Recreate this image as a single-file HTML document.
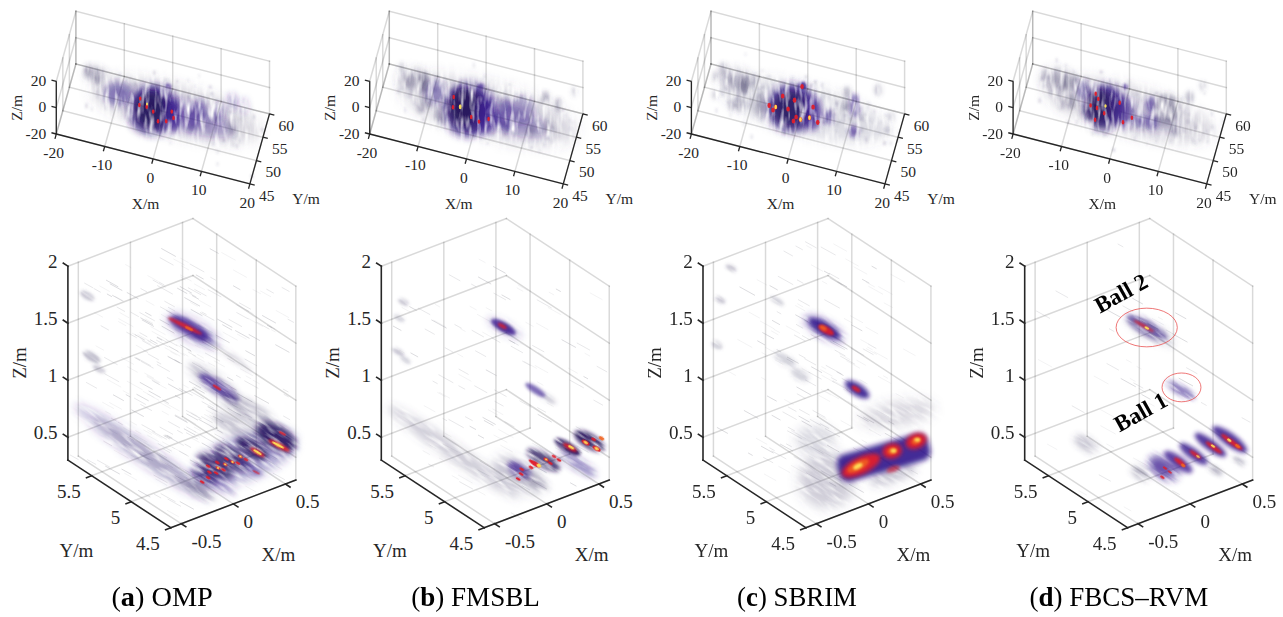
<!DOCTYPE html>
<html><head><meta charset="utf-8"><style>html,body{margin:0;padding:0;background:#fff;}svg{display:block;}</style></head>
<body><svg width="1283" height="617" viewBox="0 0 1283 617" font-family='"Liberation Serif", serif'><defs><filter id="f0_4" x="-100%" y="-100%" width="300%" height="300%"><feGaussianBlur stdDeviation="0.4"/></filter><filter id="f0_5" x="-100%" y="-100%" width="300%" height="300%"><feGaussianBlur stdDeviation="0.5"/></filter><filter id="f0_6" x="-100%" y="-100%" width="300%" height="300%"><feGaussianBlur stdDeviation="0.6"/></filter><filter id="f0_7" x="-100%" y="-100%" width="300%" height="300%"><feGaussianBlur stdDeviation="0.7"/></filter><filter id="f0_8" x="-100%" y="-100%" width="300%" height="300%"><feGaussianBlur stdDeviation="0.8"/></filter><filter id="f0_9" x="-100%" y="-100%" width="300%" height="300%"><feGaussianBlur stdDeviation="0.9"/></filter><filter id="f1_0" x="-100%" y="-100%" width="300%" height="300%"><feGaussianBlur stdDeviation="1"/></filter><filter id="f1_2" x="-100%" y="-100%" width="300%" height="300%"><feGaussianBlur stdDeviation="1.2"/></filter><filter id="f1_5" x="-100%" y="-100%" width="300%" height="300%"><feGaussianBlur stdDeviation="1.5"/></filter><filter id="f2_0" x="-100%" y="-100%" width="300%" height="300%"><feGaussianBlur stdDeviation="2"/></filter><filter id="f2_5" x="-100%" y="-100%" width="300%" height="300%"><feGaussianBlur stdDeviation="2.5"/></filter><filter id="f3_0" x="-100%" y="-100%" width="300%" height="300%"><feGaussianBlur stdDeviation="3"/></filter><filter id="f4_0" x="-100%" y="-100%" width="300%" height="300%"><feGaussianBlur stdDeviation="4"/></filter><filter id="f5_0" x="-100%" y="-100%" width="300%" height="300%"><feGaussianBlur stdDeviation="5"/></filter><filter id="f6_0" x="-100%" y="-100%" width="300%" height="300%"><feGaussianBlur stdDeviation="6"/></filter><filter id="f7_0" x="-100%" y="-100%" width="300%" height="300%"><feGaussianBlur stdDeviation="7"/></filter><filter id="txv" filterUnits="userSpaceOnUse" x="0" y="0" width="1283" height="617"><feTurbulence type="fractalNoise" baseFrequency="0.2 0.05" numOctaves="2" seed="4" result="n"/><feColorMatrix in="n" type="matrix" values="0 0 0 0 0 0 0 0 0 0 0 0 0 0 0 2.2 0 0 0 -0.25" result="m"/><feComposite in="SourceGraphic" in2="m" operator="in"/></filter><filter id="txd" filterUnits="userSpaceOnUse" x="-400" y="-400" width="2400" height="1600"><feTurbulence type="fractalNoise" baseFrequency="0.05 0.25" numOctaves="2" seed="7" result="n"/><feColorMatrix in="n" type="matrix" values="0 0 0 0 0 0 0 0 0 0 0 0 0 0 0 2.0 0 0 0 -0.12" result="m"/><feComposite in="SourceGraphic" in2="m" operator="in"/></filter><filter id="txh" filterUnits="userSpaceOnUse" x="0" y="0" width="1283" height="617"><feTurbulence type="fractalNoise" baseFrequency="0.5 0.25" numOctaves="2" seed="9" result="n"/><feColorMatrix in="n" type="matrix" values="0 0 0 0 0 0 0 0 0 0 0 0 0 0 0 2.2 0 0 0 -0.4" result="m"/><feComposite in="SourceGraphic" in2="m" operator="in"/></filter></defs><g stroke-linecap="square"><line x1="75.9" y1="64" x2="75.9" y2="11.3" stroke="#000" stroke-width="1.5" stroke-opacity="0.15"/><line x1="56.3" y1="134" x2="75.9" y2="64" stroke="#000" stroke-width="1.5" stroke-opacity="0.15"/><line x1="124.3" y1="76.47" x2="124.3" y2="23.77" stroke="#000" stroke-width="1.5" stroke-opacity="0.15"/><line x1="104.7" y1="146.47" x2="124.3" y2="76.47" stroke="#000" stroke-width="1.5" stroke-opacity="0.15"/><line x1="172.7" y1="88.95" x2="172.7" y2="36.25" stroke="#000" stroke-width="1.5" stroke-opacity="0.15"/><line x1="153.1" y1="158.95" x2="172.7" y2="88.95" stroke="#000" stroke-width="1.5" stroke-opacity="0.15"/><line x1="221.1" y1="101.43" x2="221.1" y2="48.73" stroke="#000" stroke-width="1.5" stroke-opacity="0.15"/><line x1="201.5" y1="171.43" x2="221.1" y2="101.43" stroke="#000" stroke-width="1.5" stroke-opacity="0.15"/><line x1="269.5" y1="113.9" x2="269.5" y2="61.2" stroke="#000" stroke-width="1.5" stroke-opacity="0.15"/><line x1="249.9" y1="183.9" x2="269.5" y2="113.9" stroke="#000" stroke-width="1.5" stroke-opacity="0.15"/><line x1="75.9" y1="64" x2="269.5" y2="113.9" stroke="#000" stroke-width="1.5" stroke-opacity="0.15"/><line x1="56.3" y1="134" x2="75.9" y2="64" stroke="#000" stroke-width="1.5" stroke-opacity="0.15"/><line x1="75.9" y1="37.65" x2="269.5" y2="87.55" stroke="#000" stroke-width="1.5" stroke-opacity="0.15"/><line x1="56.3" y1="107.65" x2="75.9" y2="37.65" stroke="#000" stroke-width="1.5" stroke-opacity="0.15"/><line x1="75.9" y1="11.3" x2="269.5" y2="61.2" stroke="#000" stroke-width="1.5" stroke-opacity="0.15"/><line x1="56.3" y1="81.3" x2="75.9" y2="11.3" stroke="#000" stroke-width="1.5" stroke-opacity="0.15"/><line x1="56.3" y1="134" x2="56.3" y2="81.3" stroke="#000" stroke-width="1.5" stroke-opacity="0.15"/><line x1="56.3" y1="134" x2="249.9" y2="183.9" stroke="#000" stroke-width="1.5" stroke-opacity="0.15"/><line x1="62.83" y1="110.67" x2="62.83" y2="57.97" stroke="#000" stroke-width="1.5" stroke-opacity="0.15"/><line x1="62.83" y1="110.67" x2="256.43" y2="160.57" stroke="#000" stroke-width="1.5" stroke-opacity="0.15"/><line x1="69.37" y1="87.33" x2="69.37" y2="34.63" stroke="#000" stroke-width="1.5" stroke-opacity="0.15"/><line x1="69.37" y1="87.33" x2="262.97" y2="137.23" stroke="#000" stroke-width="1.5" stroke-opacity="0.15"/><line x1="75.9" y1="64" x2="75.9" y2="11.3" stroke="#000" stroke-width="1.5" stroke-opacity="0.15"/><line x1="75.9" y1="64" x2="269.5" y2="113.9" stroke="#000" stroke-width="1.5" stroke-opacity="0.15"/></g><path d="M104.4 106.0h2.0v3.9h-2.0zM208.9 118.3h2.1v3.2h-2.1zM134.4 113.7h2.1v3.7h-2.1zM90.8 107.4h2.1v3.3h-2.1zM106.2 86.5h1.7v4.6h-1.7zM239.2 117.4h2.8v4.0h-2.8zM226.5 105.6h2.3v4.3h-2.3zM119.5 72.5h2.4v4.6h-2.4zM217.7 99.7h1.9v4.4h-1.9zM112.6 99.7h1.9v2.6h-1.9zM233.6 126.6h2.4v4.3h-2.4zM167.4 116.5h2.1v3.2h-2.1zM214.2 126.1h2.2v3.3h-2.2zM160.2 93.2h1.5v4.1h-1.5zM165.5 105.0h2.0v3.4h-2.0zM106.8 90.2h1.8v3.1h-1.8zM149.2 126.1h2.6v3.4h-2.6zM160.5 83.5h1.6v3.4h-1.6zM175.5 124.0h2.8v4.8h-2.8zM158.3 115.5h2.5v3.2h-2.5zM222.4 118.9h2.3v4.2h-2.3zM153.8 103.7h2.5v4.8h-2.5zM123.3 96.8h2.8v3.0h-2.8zM131.2 88.0h2.2v3.4h-2.2zM216.7 149.0h2.3v4.9h-2.3zM207.8 129.8h2.9v3.9h-2.9zM231.9 142.6h2.4v4.4h-2.4zM178.6 113.7h2.3v4.5h-2.3zM168.1 136.0h2.4v3.2h-2.4zM148.1 107.6h2.1v2.6h-2.1zM164.8 117.1h1.6v3.8h-1.6zM163.0 106.7h2.0v4.1h-2.0zM167.9 131.8h1.7v3.4h-1.7zM169.3 89.4h3.0v2.9h-3.0zM147.7 128.6h1.6v4.3h-1.6zM212.2 142.5h2.3v2.8h-2.3zM187.1 78.5h1.8v3.8h-1.8zM193.9 84.7h2.0v2.6h-2.0zM239.1 109.4h2.1v4.1h-2.1zM99.2 76.2h2.6v3.2h-2.6zM228.3 110.4h2.6v4.0h-2.6zM196.0 122.5h2.3v3.1h-2.3zM161.0 98.3h2.6v4.0h-2.6zM128.9 101.6h2.9v2.6h-2.9zM167.8 78.4h1.5v3.9h-1.5zM96.2 94.9h2.3v2.9h-2.3zM170.1 102.6h1.7v3.9h-1.7zM233.2 136.6h2.3v3.4h-2.3zM173.6 90.3h1.6v4.0h-1.6zM175.7 102.1h1.8v2.6h-1.8zM144.4 119.8h2.6v4.9h-2.6zM115.5 78.7h2.4v4.0h-2.4zM132.0 109.9h2.1v4.2h-2.1zM197.4 116.0h2.0v3.4h-2.0zM216.3 162.1h2.6v3.7h-2.6zM138.0 118.9h2.5v4.7h-2.5zM135.2 126.1h2.2v3.9h-2.2zM155.6 111.0h2.0v2.6h-2.0zM147.2 86.5h2.1v4.1h-2.1zM139.8 117.8h2.3v2.7h-2.3zM230.5 105.3h2.5v2.8h-2.5zM203.8 120.4h2.4v2.6h-2.4zM219.9 123.5h2.1v2.7h-2.1zM122.7 82.4h2.1v3.2h-2.1zM169.3 141.6h1.9v2.8h-1.9zM184.8 99.4h3.0v4.8h-3.0zM129.7 83.9h3.0v3.4h-3.0zM207.7 125.2h1.9v5.0h-1.9zM211.5 93.2h1.8v3.4h-1.8zM201.9 113.1h2.3v4.0h-2.3zM173.9 90.9h2.1v4.2h-2.1zM166.8 104.4h1.8v2.9h-1.8zM167.9 114.8h1.9v3.1h-1.9zM128.6 88.7h2.1v4.3h-2.1zM212.7 110.3h2.8v5.0h-2.8zM161.7 81.8h2.2v4.0h-2.2zM161.5 89.8h2.7v4.5h-2.7zM128.8 83.8h1.7v4.4h-1.7zM97.8 78.6h1.7v4.4h-1.7zM222.4 119.3h2.4v4.2h-2.4zM189.3 99.3h2.6v3.9h-2.6zM128.8 109.6h2.2v4.7h-2.2zM187.7 118.5h2.0v3.2h-2.0zM115.4 78.4h2.5v3.9h-2.5zM107.2 85.7h1.7v3.1h-1.7zM183.5 117.5h1.9v4.0h-1.9zM134.4 86.3h2.1v2.6h-2.1zM211.3 134.0h2.2v3.6h-2.2zM152.7 103.0h1.9v3.7h-1.9zM168.7 103.7h2.2v4.8h-2.2zM157.7 110.4h1.6v3.0h-1.6zM148.1 128.1h2.5v2.6h-2.5zM239.2 138.5h1.9v4.4h-1.9zM220.8 107.1h2.1v4.8h-2.1zM114.4 98.8h2.2v3.4h-2.2zM186.0 103.7h2.5v2.7h-2.5zM133.8 97.9h2.3v4.7h-2.3zM204.1 112.4h2.4v3.9h-2.4zM201.9 118.4h1.7v4.1h-1.7zM127.0 86.0h2.5v3.4h-2.5zM145.6 101.8h1.9v3.2h-1.9zM117.0 90.1h2.0v4.8h-2.0zM178.6 94.6h2.9v3.5h-2.9zM191.5 118.9h2.0v3.2h-2.0zM155.5 114.2h2.4v4.9h-2.4zM174.0 97.1h2.7v3.8h-2.7zM159.0 93.4h1.6v3.3h-1.6zM198.3 74.2h1.8v3.4h-1.8zM127.2 77.1h2.0v3.7h-2.0z" fill="#5a5080" fill-opacity="0.12" filter="url(#f0_8)"/><path d="M209.1 85.6h2.4v3.1h-2.4zM144.6 87.2h2.1v4.1h-2.1zM163.3 98.6h2.0v3.9h-2.0zM138.8 100.1h2.8v3.3h-2.8zM189.0 125.6h1.5v4.8h-1.5zM96.6 89.8h1.6v4.4h-1.6zM153.2 70.5h2.2v4.4h-2.2zM170.5 109.0h2.0v3.9h-2.0zM147.2 93.0h2.7v4.4h-2.7zM164.6 77.8h1.6v3.7h-1.6zM151.1 108.9h2.6v3.8h-2.6zM210.6 91.9h2.0v3.1h-2.0zM191.5 123.7h2.6v3.6h-2.6zM250.6 174.5h2.8v3.4h-2.8zM223.1 115.0h1.8v4.5h-1.8zM253.0 114.6h1.9v4.6h-1.9zM169.1 125.1h2.0v2.7h-2.0zM213.6 118.3h2.5v3.2h-2.5zM191.9 109.9h1.8v3.7h-1.8zM186.2 94.7h2.9v4.2h-2.9zM123.7 106.7h1.5v4.4h-1.5zM158.6 107.7h2.0v2.7h-2.0zM134.0 82.1h2.8v4.6h-2.8zM170.5 84.6h2.5v4.4h-2.5zM85.3 103.5h2.2v4.7h-2.2zM157.5 108.8h2.8v3.4h-2.8zM176.5 104.7h2.5v3.8h-2.5zM161.5 105.4h1.8v3.7h-1.8zM146.5 115.4h2.8v3.2h-2.8zM229.3 110.2h2.2v3.4h-2.2zM207.7 123.5h1.8v3.4h-1.8zM213.2 119.4h3.0v4.2h-3.0zM132.6 100.0h2.9v4.2h-2.9zM154.9 84.7h2.4v3.6h-2.4zM140.2 108.1h2.8v3.4h-2.8zM215.8 115.9h2.8v3.0h-2.8zM85.5 68.0h2.3v3.8h-2.3zM139.6 104.4h3.0v4.2h-3.0zM150.9 92.1h1.8v3.2h-1.8zM235.8 143.7h1.8v4.7h-1.8zM260.9 127.7h2.2v4.4h-2.2zM159.5 98.6h2.0v4.5h-2.0zM203.3 124.1h3.0v4.2h-3.0zM168.2 112.0h2.1v2.6h-2.1zM193.6 101.6h2.1v2.7h-2.1zM150.8 107.8h2.7v4.6h-2.7zM157.2 126.2h2.4v3.2h-2.4zM208.2 120.1h2.2v3.8h-2.2zM179.5 106.5h2.7v3.7h-2.7zM150.5 116.8h2.4v3.1h-2.4zM176.5 79.8h1.8v3.0h-1.8zM179.9 118.6h2.6v4.6h-2.6zM158.5 97.5h2.2v3.1h-2.2zM122.2 90.2h2.4v3.8h-2.4zM222.7 138.4h2.8v3.6h-2.8zM147.2 104.7h2.5v3.5h-2.5zM161.3 113.0h1.8v4.9h-1.8z" fill="#5a5080" fill-opacity="0.22" filter="url(#f0_8)"/><g filter="url(#txv)"><ellipse cx="175" cy="110" rx="88" ry="25" transform="rotate(15 175 110)" fill="#504a72" fill-opacity="0.22" filter="url(#f6_0)"/><ellipse cx="95" cy="74" rx="12" ry="8" transform="rotate(10 95 74)" fill="#504a72" fill-opacity="0.3" filter="url(#f3_0)"/><ellipse cx="88" cy="70" rx="3" ry="7" fill="#504a72" fill-opacity="0.35" filter="url(#f2_0)"/><ellipse cx="97" cy="77" rx="3" ry="8" fill="#504a72" fill-opacity="0.4" filter="url(#f2_0)"/><ellipse cx="185" cy="116" rx="50" ry="14" transform="rotate(18 185 116)" fill="#3a2090" fill-opacity="0.35" filter="url(#f5_0)"/><ellipse cx="118" cy="94" rx="14" ry="12" fill="#3a2090" fill-opacity="0.5" filter="url(#f3_0)"/><ellipse cx="153" cy="110" rx="24" ry="24" fill="#3a2090" fill-opacity="0.9" filter="url(#f4_0)"/><ellipse cx="150" cy="108" rx="14" ry="18" fill="#22125a" fill-opacity="0.6" filter="url(#f4_0)"/><ellipse cx="152" cy="112" rx="20" ry="20" fill="#241c3a" fill-opacity="0.3" filter="url(#f5_0)"/><ellipse cx="174" cy="116" rx="9" ry="16" fill="#3a2090" fill-opacity="0.65" filter="url(#f3_0)"/><ellipse cx="192" cy="117" rx="6" ry="15" fill="#3a2090" fill-opacity="0.6" filter="url(#f3_0)"/><ellipse cx="201" cy="111" rx="5" ry="12" fill="#3a2090" fill-opacity="0.5" filter="url(#f3_0)"/><ellipse cx="218" cy="113" rx="5" ry="10" fill="#3a2090" fill-opacity="0.5" filter="url(#f3_0)"/><ellipse cx="232" cy="102" rx="5" ry="9" fill="#3a2090" fill-opacity="0.35" filter="url(#f3_0)"/><ellipse cx="244" cy="106" rx="4" ry="8" fill="#3a2090" fill-opacity="0.3" filter="url(#f3_0)"/><ellipse cx="232" cy="127" rx="4" ry="8" fill="#504a72" fill-opacity="0.35" filter="url(#f2_0)"/><ellipse cx="167.8" cy="86.5" rx="3" ry="3" fill="#3a2090" fill-opacity="0.6" filter="url(#f1_0)"/></g><g><ellipse cx="140.2" cy="98.6" rx="1.3" ry="2.2" fill="#e0202a" fill-opacity="0.95" filter="url(#f0_5)"/><ellipse cx="139.4" cy="105" rx="1.3" ry="2.2" fill="#e0202a" fill-opacity="0.95" filter="url(#f0_5)"/><ellipse cx="146.7" cy="106.7" rx="1.3" ry="2.2" fill="#e0202a" fill-opacity="0.95" filter="url(#f0_5)"/><ellipse cx="153.2" cy="111.6" rx="1.3" ry="2.2" fill="#e0202a" fill-opacity="0.95" filter="url(#f0_5)"/><ellipse cx="171.8" cy="111.6" rx="1.3" ry="2.2" fill="#e0202a" fill-opacity="0.95" filter="url(#f0_5)"/><ellipse cx="173.5" cy="118" rx="1.3" ry="2.2" fill="#e0202a" fill-opacity="0.95" filter="url(#f0_5)"/><ellipse cx="158" cy="121.3" rx="1.3" ry="2.2" fill="#e0202a" fill-opacity="0.95" filter="url(#f0_5)"/><ellipse cx="166.2" cy="121.3" rx="1.3" ry="2.2" fill="#e0202a" fill-opacity="0.95" filter="url(#f0_5)"/><ellipse cx="147" cy="104" rx="1" ry="1.5" fill="#ffe45a" fill-opacity="0.9" filter="url(#f0_6)"/></g><g><line x1="56.3" y1="134" x2="56.3" y2="81.3" stroke="#262626" stroke-width="1.3"/><line x1="56.3" y1="134" x2="249.9" y2="183.9" stroke="#262626" stroke-width="1.3"/><line x1="249.9" y1="183.9" x2="269.5" y2="113.9" stroke="#262626" stroke-width="1.3"/><line x1="56.3" y1="134" x2="51.46" y2="132.75" stroke="#262626" stroke-width="1.3"/><line x1="56.3" y1="107.65" x2="51.46" y2="106.4" stroke="#262626" stroke-width="1.3"/><line x1="56.3" y1="81.3" x2="51.46" y2="80.05" stroke="#262626" stroke-width="1.3"/><line x1="56.3" y1="134" x2="54.95" y2="138.81" stroke="#262626" stroke-width="1.3"/><line x1="104.7" y1="146.47" x2="103.35" y2="151.29" stroke="#262626" stroke-width="1.3"/><line x1="153.1" y1="158.95" x2="151.75" y2="163.76" stroke="#262626" stroke-width="1.3"/><line x1="201.5" y1="171.43" x2="200.15" y2="176.24" stroke="#262626" stroke-width="1.3"/><line x1="249.9" y1="183.9" x2="248.55" y2="188.71" stroke="#262626" stroke-width="1.3"/><line x1="249.9" y1="183.9" x2="254.74" y2="185.15" stroke="#262626" stroke-width="1.3"/><line x1="256.43" y1="160.57" x2="261.28" y2="161.81" stroke="#262626" stroke-width="1.3"/><line x1="262.97" y1="137.23" x2="267.81" y2="138.48" stroke="#262626" stroke-width="1.3"/><line x1="269.5" y1="113.9" x2="274.34" y2="115.15" stroke="#262626" stroke-width="1.3"/></g><g fill="#262626"><text x="46.2" y="80.3" font-size="15.5" text-anchor="end" dominant-baseline="central">20</text><text x="46.2" y="106.65" font-size="15.5" text-anchor="end" dominant-baseline="central">0</text><text x="46.2" y="133" font-size="15.5" text-anchor="end" dominant-baseline="central">-20</text><text x="53.6" y="152.5" font-size="15.5" text-anchor="middle" dominant-baseline="central">-20</text><text x="102" y="164.97" font-size="15.5" text-anchor="middle" dominant-baseline="central">-10</text><text x="150.4" y="177.45" font-size="15.5" text-anchor="middle" dominant-baseline="central">0</text><text x="198.8" y="189.93" font-size="15.5" text-anchor="middle" dominant-baseline="central">10</text><text x="247.2" y="202.4" font-size="15.5" text-anchor="middle" dominant-baseline="central">20</text><text x="266.7" y="195.3" font-size="15.5" text-anchor="middle" dominant-baseline="central">45</text><text x="273.23" y="171.97" font-size="15.5" text-anchor="middle" dominant-baseline="central">50</text><text x="279.77" y="148.63" font-size="15.5" text-anchor="middle" dominant-baseline="central">55</text><text x="286.3" y="125.3" font-size="15.5" text-anchor="middle" dominant-baseline="central">60</text><text x="145.5" y="203.2" font-size="15.5" text-anchor="middle" dominant-baseline="central">X/m</text><text x="306" y="198.2" font-size="15.5" text-anchor="middle" dominant-baseline="central">Y/m</text><text x="0" y="0" font-size="15.5" text-anchor="middle" dominant-baseline="central" transform="translate(16.2,107.9) rotate(-90)">Z/m</text></g><g stroke-linecap="square"><line x1="78.32" y1="456.13" x2="78.32" y2="262.23" stroke="#000" stroke-width="1.5" stroke-opacity="0.15"/><line x1="181.22" y1="523.73" x2="78.32" y2="456.13" stroke="#000" stroke-width="1.5" stroke-opacity="0.15"/><line x1="130.42" y1="436.28" x2="130.42" y2="242.38" stroke="#000" stroke-width="1.5" stroke-opacity="0.15"/><line x1="233.31" y1="503.88" x2="130.42" y2="436.28" stroke="#000" stroke-width="1.5" stroke-opacity="0.15"/><line x1="182.52" y1="416.43" x2="182.52" y2="222.53" stroke="#000" stroke-width="1.5" stroke-opacity="0.15"/><line x1="285.42" y1="484.03" x2="182.52" y2="416.43" stroke="#000" stroke-width="1.5" stroke-opacity="0.15"/><line x1="295.83" y1="480.06" x2="295.83" y2="286.16" stroke="#000" stroke-width="1.5" stroke-opacity="0.15"/><line x1="170.8" y1="527.7" x2="295.83" y2="480.06" stroke="#000" stroke-width="1.5" stroke-opacity="0.15"/><line x1="256.26" y1="454.06" x2="256.26" y2="260.16" stroke="#000" stroke-width="1.5" stroke-opacity="0.15"/><line x1="131.22" y1="501.7" x2="256.26" y2="454.06" stroke="#000" stroke-width="1.5" stroke-opacity="0.15"/><line x1="216.68" y1="428.06" x2="216.68" y2="234.16" stroke="#000" stroke-width="1.5" stroke-opacity="0.15"/><line x1="91.64" y1="475.7" x2="216.68" y2="428.06" stroke="#000" stroke-width="1.5" stroke-opacity="0.15"/><line x1="67.9" y1="437.29" x2="192.94" y2="389.65" stroke="#000" stroke-width="1.5" stroke-opacity="0.15"/><line x1="295.83" y1="457.25" x2="192.94" y2="389.65" stroke="#000" stroke-width="1.5" stroke-opacity="0.15"/><line x1="67.9" y1="380.26" x2="192.94" y2="332.62" stroke="#000" stroke-width="1.5" stroke-opacity="0.15"/><line x1="295.83" y1="400.22" x2="192.94" y2="332.62" stroke="#000" stroke-width="1.5" stroke-opacity="0.15"/><line x1="67.9" y1="323.23" x2="192.94" y2="275.59" stroke="#000" stroke-width="1.5" stroke-opacity="0.15"/><line x1="295.83" y1="343.19" x2="192.94" y2="275.59" stroke="#000" stroke-width="1.5" stroke-opacity="0.15"/><line x1="67.9" y1="266.2" x2="192.94" y2="218.56" stroke="#000" stroke-width="1.5" stroke-opacity="0.15"/><line x1="295.83" y1="286.16" x2="192.94" y2="218.56" stroke="#000" stroke-width="1.5" stroke-opacity="0.15"/></g><path d="M135.9 345.1l6.7 3.7M130.5 421.5l6.4 3.6M233.2 269.9l13.7 7.6M212.2 408.7l11.2 6.2M209.3 415.2l13.9 7.7M240.2 368.7l13.0 7.2M213.9 360.8l11.0 6.1M246.6 476.0l11.1 6.2M124.4 473.2l12.6 7.0M275.1 444.5l7.2 4.0M135.4 430.5l6.0 3.3M190.3 412.0l7.0 3.9M191.7 438.1l7.8 4.3M237.4 397.7l4.5 2.5M132.0 333.0l4.6 2.6M237.2 334.1l9.4 5.2M216.3 417.6l9.5 5.2M222.7 332.0l14.9 8.3M158.2 401.6l12.4 6.9M260.3 290.9l10.7 5.9M94.3 312.5l8.7 4.8M105.3 411.3l5.7 3.1M241.3 395.8l15.3 8.5M252.8 380.1l7.0 3.9M147.3 435.2l11.5 6.4M118.4 318.5l15.0 8.3M195.4 385.9l11.7 6.5M214.4 419.1l8.0 4.4M194.4 480.9l15.0 8.3M143.0 391.3l11.2 6.2M229.6 390.2l5.3 2.9M200.5 461.9l14.1 7.8M207.9 362.5l7.1 3.9M194.4 431.3l11.2 6.2M222.6 384.8l5.5 3.0M252.6 289.3l8.2 4.5M196.3 333.5l14.5 8.0M145.8 300.6l8.6 4.8M184.3 417.7l11.8 6.5M275.8 310.4l13.1 7.2M162.1 441.7l12.9 7.1M194.5 434.3l5.7 3.1M213.0 388.6l4.8 2.7M140.7 461.4l8.4 4.6M191.3 413.5l9.0 5.0M209.1 403.1l5.7 3.2M266.6 454.8l9.7 5.4M161.9 411.1l7.0 3.9M209.6 467.4l8.3 4.6M210.1 426.3l13.5 7.5M245.3 486.0l10.8 6.0M248.8 419.0l6.5 3.6M173.4 258.9l11.4 6.3M153.5 381.4l13.0 7.2M165.6 435.3l5.3 2.9M164.7 347.6l15.5 8.6M107.0 379.3l14.2 7.9M147.5 393.9l11.5 6.4M122.8 443.5l8.7 4.8M198.7 343.5l15.3 8.5M192.4 355.0l12.0 6.7M109.2 402.4l12.7 7.0M188.1 321.7l10.5 5.8M194.1 283.8l10.7 5.9M166.9 510.2l11.9 6.6M146.9 375.4l13.4 7.4M176.5 480.2l6.8 3.8M155.6 479.0l11.5 6.4M207.0 406.5l9.8 5.5M147.5 275.5l11.2 6.2M237.4 413.2l8.3 4.6M174.6 317.2l4.9 2.7M196.9 354.3l6.8 3.7M219.1 447.9l7.3 4.0M130.6 454.9l8.7 4.8M144.1 451.9l4.7 2.6M102.2 402.1l11.7 6.5M161.0 314.3l14.6 8.1M198.4 494.1l7.1 3.9M99.4 285.8l10.3 5.7M113.7 450.0l15.0 8.3M172.0 447.0l15.0 8.3M194.4 334.3l15.6 8.6M199.1 300.3l12.2 6.8M229.8 403.1l11.4 6.3M174.6 329.3l15.1 8.4M246.1 309.8l7.3 4.0M181.2 265.7l7.8 4.3M182.8 384.7l5.7 3.1M170.3 351.5l6.3 3.5M188.5 329.6l9.5 5.3M108.5 429.1l9.0 5.0M115.1 296.4l9.1 5.0M180.1 274.8l11.4 6.3M140.4 338.6l10.5 5.8M180.4 276.9l5.0 2.8M179.8 471.8l8.6 4.7M123.3 427.6l7.8 4.3M271.1 329.6l4.5 2.5M143.4 442.3l6.0 3.3M121.2 357.4l12.7 7.1M182.8 335.1l8.4 4.7M190.2 302.3l7.4 4.1M222.6 382.3l14.5 8.0M205.7 409.8l7.2 4.0M133.6 434.5l14.1 7.8M150.5 326.5l14.9 8.2M180.4 258.1l8.2 4.5M145.1 318.9l8.0 4.4M198.3 380.8l6.6 3.7M245.7 375.8l5.4 3.0M164.4 402.6l15.2 8.4M177.3 351.4l7.6 4.2M273.7 464.8l8.2 4.6M143.5 429.9l8.4 4.6M151.8 331.3l14.7 8.1M122.8 390.6l6.2 3.4M146.7 376.4l12.4 6.9M176.0 344.5l5.7 3.2M247.0 436.0l15.7 8.7M127.3 366.6l10.4 5.8M125.2 264.4l6.2 3.4M137.6 334.4l14.0 7.8M221.4 252.4l14.2 7.9M198.4 324.7l14.9 8.3M182.7 353.2l5.7 3.1M202.2 368.8l6.5 3.6M194.0 427.0l6.8 3.8M197.1 376.3l7.7 4.3M147.5 430.1l14.7 8.2M119.6 312.5l9.5 5.3M144.4 373.0l9.6 5.3M204.2 414.3l9.1 5.0M159.1 458.8l9.7 5.4M212.4 402.9l7.1 3.9M191.9 387.7l4.6 2.5M194.5 344.9l6.1 3.4M95.6 345.7l8.4 4.6M247.8 318.2l15.1 8.4M126.9 381.1l15.6 8.7M118.2 321.4l7.9 4.4" stroke="#9a9aa4" stroke-opacity="0.12" stroke-width="1" fill="none"/><path d="M142.2 340.6l12.4 6.9M142.7 349.6l5.3 2.9M244.4 380.7l13.9 7.7M215.1 392.3l14.0 7.8M117.8 422.0l5.0 2.8M147.5 340.5l11.9 6.6M283.7 394.2l4.9 2.7M153.9 494.0l7.2 4.0M266.4 289.1l7.4 4.1M97.1 460.0l12.7 7.1M86.1 382.3l10.8 6.0M201.7 401.5l12.0 6.7M256.2 321.9l13.2 7.3M184.7 444.0l6.4 3.6M104.4 373.6l14.7 8.2M164.4 301.1l10.4 5.8M116.8 307.0l8.2 4.6M167.6 499.0l13.4 7.4M159.8 257.6l13.7 7.6M165.8 339.4l11.5 6.4M141.6 424.6l13.6 7.5M194.4 289.3l12.1 6.7M263.7 451.6l13.7 7.6M188.3 352.1l7.8 4.3M167.4 356.2l12.0 6.6M185.9 410.3l15.6 8.6M70.0 454.9l8.6 4.8M214.5 433.9l10.3 5.7M152.8 280.0l12.9 7.2M189.7 263.9l14.6 8.1M175.1 414.8l11.8 6.6M205.0 352.9l15.0 8.3M177.2 430.3l5.5 3.1M189.3 293.1l7.0 3.9M236.5 304.6l12.5 6.9M103.4 441.1l8.7 4.8M157.2 285.5l15.7 8.7M168.2 421.4l11.7 6.5M210.4 277.2l5.4 3.0M166.3 310.5l12.7 7.0M186.4 349.0l5.4 3.0M162.5 448.5l7.6 4.2M140.5 288.4l6.6 3.6M228.7 319.3l13.3 7.4M156.7 361.6l4.4 2.5M157.8 443.5l14.0 7.7M111.0 418.0l5.6 3.1M287.7 319.1l6.2 3.4M156.9 364.4l12.9 7.2M87.2 459.6l8.9 4.9M272.9 473.1l11.9 6.6M282.9 389.0l5.5 3.0M134.2 398.1l11.6 6.4M260.7 456.7l13.8 7.6M157.1 336.9l10.9 6.0M168.1 356.5l12.0 6.7M166.9 377.3l6.5 3.6M231.9 404.5l5.8 3.2M178.7 442.7l5.1 2.8M187.9 287.6l13.1 7.2M141.0 361.3l12.5 6.9M139.6 332.6l7.7 4.3M198.2 325.4l5.4 3.0M160.1 306.7l11.5 6.4M153.4 450.3l13.4 7.4M215.3 389.2l6.6 3.7M179.2 451.1l9.4 5.2M127.3 436.7l6.6 3.7M178.8 388.0l7.7 4.3M184.0 390.9l8.5 4.7M256.8 439.7l9.0 5.0M283.2 415.9l6.9 3.9M192.1 362.5l10.0 5.5M84.3 283.0l8.8 4.9M186.4 426.8l9.8 5.5M227.4 358.3l7.1 4.0M220.8 380.6l9.5 5.3M139.2 453.3l13.6 7.5M200.0 312.5l14.3 7.9M201.3 336.9l8.1 4.5M139.5 312.4l15.3 8.5M239.2 302.8l11.7 6.5M168.0 307.2l7.2 4.0M140.3 404.3l11.6 6.4M93.7 288.4l7.0 3.9M153.5 475.0l14.1 7.8M160.1 460.5l12.6 7.0M156.1 340.0l12.2 6.8M201.2 416.5l11.4 6.3M186.0 432.6l11.9 6.6M222.4 439.9l9.1 5.0M159.7 427.0l13.3 7.4M151.9 380.3l7.9 4.4M126.4 332.1l10.4 5.7M160.6 493.5l14.9 8.3M190.3 470.8l11.9 6.6M236.0 375.2l4.7 2.6M244.7 359.0l12.4 6.9M244.6 413.8l7.3 4.0M207.8 289.5l13.5 7.5M136.1 357.6l14.6 8.1M179.2 467.0l10.2 5.6M100.7 325.6l8.1 4.5M213.2 385.7l13.3 7.4M152.3 431.4l14.5 8.0M158.9 282.0l5.4 3.0M200.0 434.9l13.8 7.7M281.7 287.3l7.8 4.3M201.6 311.9l4.9 2.7M189.4 390.9l14.7 8.1M236.4 312.4l12.0 6.6M130.6 312.1l8.2 4.6M147.8 353.8l11.0 6.1M269.5 326.1l5.9 3.3M104.2 357.3l13.3 7.4M230.4 386.8l6.0 3.3" stroke="#9a9aa4" stroke-opacity="0.23" stroke-width="1" fill="none"/><path d="M209.8 248.6l8.8 4.9M140.4 317.7l12.5 6.9M189.1 381.4l12.1 6.7M227.6 408.1l13.5 7.5M168.6 346.2l9.8 5.4M131.5 409.8l12.3 6.8M275.3 344.6l14.1 7.8M183.9 428.7l11.0 6.1M166.8 435.2l5.6 3.1M175.0 395.4l5.5 3.0M121.5 469.0l9.8 5.4M179.8 286.4l12.0 6.7M134.6 357.5l5.7 3.2M233.1 285.7l7.3 4.1M217.2 319.0l15.1 8.4M150.0 339.6l7.5 4.2M202.2 341.8l15.6 8.7M125.8 394.5l4.5 2.5M186.4 413.8l11.6 6.4M216.9 429.7l5.6 3.1M159.7 319.6l9.8 5.4M227.1 377.1l6.2 3.5M177.2 288.1l10.0 5.5M113.0 394.7l10.8 6.0M134.8 334.5l9.9 5.5M235.2 330.5l14.3 7.9M174.8 415.6l12.8 7.1M148.6 390.9l12.1 6.7M195.9 274.8l7.7 4.3M112.2 295.2l10.5 5.8M254.4 395.4l14.6 8.1M174.7 475.4l10.2 5.6M109.8 283.7l12.5 6.9M163.6 435.5l6.3 3.5M180.3 344.9l10.7 5.9M136.5 394.2l12.2 6.7M164.8 434.9l13.0 7.2M105.2 466.0l14.6 8.1M106.1 280.1l12.2 6.8M161.6 326.1l12.8 7.1M237.3 393.5l15.1 8.4M193.6 387.2l11.0 6.1M106.9 293.9l5.0 2.8M191.9 295.4l7.0 3.9M156.8 337.3l5.4 3.0M245.4 350.6l9.6 5.3M237.6 443.8l7.8 4.3M139.8 382.3l12.8 7.1M190.8 333.3l12.1 6.7M222.3 324.6l9.8 5.5M138.1 490.3l12.2 6.8M179.8 501.5l14.1 7.8M161.2 248.4l14.6 8.1M262.1 315.4l13.8 7.7M145.2 312.3l6.3 3.5M162.5 399.9l6.2 3.5M184.4 297.5l15.6 8.7M189.9 459.8l15.5 8.6M190.7 309.3l11.7 6.5M213.2 416.3l10.4 5.7M174.5 359.7l7.6 4.2M168.1 383.9l14.2 7.9M141.9 319.8l12.0 6.7M215.6 335.0l14.1 7.8M140.4 454.6l9.3 5.1M198.5 419.2l15.3 8.5M248.7 334.4l11.2 6.2M226.8 459.6l12.5 6.9M207.9 406.5l9.3 5.1M201.7 442.9l10.0 5.6M126.8 292.4l11.6 6.4M267.0 325.1l5.0 2.8" stroke="#9a9aa4" stroke-opacity="0.35" stroke-width="1" fill="none"/><g transform="rotate(33 180 400)"><g filter="url(#txd)"><g transform="rotate(-33 180 400)"><ellipse cx="87.4" cy="295.8" rx="8" ry="3.5" transform="rotate(30 87.4 295.8)" fill="#504a72" fill-opacity="0.35" filter="url(#f1_5)"/><ellipse cx="91.6" cy="357" rx="10" ry="4.5" transform="rotate(30 91.6 357)" fill="#504a72" fill-opacity="0.35" filter="url(#f1_5)"/><ellipse cx="99" cy="369" rx="7" ry="3" transform="rotate(30 99 369)" fill="#504a72" fill-opacity="0.3" filter="url(#f1_5)"/><ellipse cx="193" cy="331" rx="30" ry="11" transform="rotate(30 193 331)" fill="#3a2090" fill-opacity="0.3" filter="url(#f4_0)"/><ellipse cx="203" cy="336" rx="12" ry="5" transform="rotate(30 203 336)" fill="#3a2090" fill-opacity="0.45" filter="url(#f2_0)"/><ellipse cx="232" cy="357" rx="24" ry="3" transform="rotate(35 232 357)" fill="#504a72" fill-opacity="0.22" filter="url(#f2_0)"/><ellipse cx="213" cy="382" rx="30" ry="9" transform="rotate(35 213 382)" fill="#504a72" fill-opacity="0.3" filter="url(#f3_0)"/><ellipse cx="219" cy="388" rx="24" ry="6.5" transform="rotate(35 219 388)" fill="#3a2090" fill-opacity="0.7" filter="url(#f2_0)"/><ellipse cx="248" cy="410" rx="30" ry="9" transform="rotate(28 248 410)" fill="#504a72" fill-opacity="0.35" filter="url(#f3_0)"/><ellipse cx="238" cy="428" rx="28" ry="10" transform="rotate(28 238 428)" fill="#504a72" fill-opacity="0.3" filter="url(#f4_0)"/><ellipse cx="142" cy="452" rx="82" ry="11" transform="rotate(35 142 452)" fill="#3a2090" fill-opacity="0.25" filter="url(#f4_0)"/><ellipse cx="150" cy="458" rx="70" ry="7" transform="rotate(35 150 458)" fill="#504a72" fill-opacity="0.25" filter="url(#f3_0)"/><ellipse cx="244" cy="458" rx="55" ry="22" transform="rotate(-21 244 458)" fill="#3a2090" fill-opacity="0.4" filter="url(#f5_0)"/><ellipse cx="276" cy="437" rx="22" ry="12" transform="rotate(31 276 437)" fill="#22125a" fill-opacity="0.85" filter="url(#f3_0)"/><ellipse cx="252" cy="449" rx="18" ry="8" transform="rotate(31 252 449)" fill="#22125a" fill-opacity="0.8" filter="url(#f2_5)"/><ellipse cx="232" cy="458" rx="20" ry="9" transform="rotate(31 232 458)" fill="#22125a" fill-opacity="0.7" filter="url(#f3_0)"/><ellipse cx="215" cy="466" rx="20" ry="10" transform="rotate(31 215 466)" fill="#22125a" fill-opacity="0.7" filter="url(#f3_0)"/><ellipse cx="205" cy="475" rx="14" ry="7" transform="rotate(31 205 475)" fill="#22125a" fill-opacity="0.6" filter="url(#f3_0)"/><ellipse cx="215" cy="482" rx="24" ry="6" transform="rotate(31 215 482)" fill="#3a2090" fill-opacity="0.35" filter="url(#f3_0)"/><ellipse cx="250" cy="468" rx="14" ry="4" transform="rotate(31 250 468)" fill="#3a2090" fill-opacity="0.45" filter="url(#f2_0)"/><ellipse cx="200" cy="490" rx="18" ry="5" transform="rotate(33 200 490)" fill="#504a72" fill-opacity="0.35" filter="url(#f3_0)"/></g></g></g><g><ellipse cx="189" cy="328" rx="22" ry="7.5" transform="rotate(30 189 328)" fill="#3c1d90" fill-opacity="0.8" filter="url(#f2_0)"/><ellipse cx="208.2" cy="466.2" rx="2.6" ry="1.2" transform="rotate(31 208.2 466.2)" fill="#e0202a" fill-opacity="0.95" filter="url(#f0_5)"/><ellipse cx="217.3" cy="462.5" rx="2.6" ry="1.2" transform="rotate(31 217.3 462.5)" fill="#e0202a" fill-opacity="0.95" filter="url(#f0_5)"/><ellipse cx="226.5" cy="458.9" rx="2.6" ry="1.2" transform="rotate(31 226.5 458.9)" fill="#e0202a" fill-opacity="0.95" filter="url(#f0_5)"/><ellipse cx="240.4" cy="456.5" rx="2.6" ry="1.2" transform="rotate(31 240.4 456.5)" fill="#e0202a" fill-opacity="0.95" filter="url(#f0_5)"/><ellipse cx="245.9" cy="459.5" rx="2.6" ry="1.2" transform="rotate(31 245.9 459.5)" fill="#e0202a" fill-opacity="0.95" filter="url(#f0_5)"/><ellipse cx="209.4" cy="472.3" rx="2.6" ry="1.2" transform="rotate(31 209.4 472.3)" fill="#e0202a" fill-opacity="0.95" filter="url(#f0_5)"/><ellipse cx="216.1" cy="472.9" rx="2.6" ry="1.2" transform="rotate(31 216.1 472.9)" fill="#e0202a" fill-opacity="0.95" filter="url(#f0_5)"/><ellipse cx="223.4" cy="469.8" rx="2.6" ry="1.2" transform="rotate(31 223.4 469.8)" fill="#e0202a" fill-opacity="0.95" filter="url(#f0_5)"/><ellipse cx="208.2" cy="477.7" rx="2.6" ry="1.2" transform="rotate(31 208.2 477.7)" fill="#e0202a" fill-opacity="0.95" filter="url(#f0_5)"/><ellipse cx="202.2" cy="482" rx="2.6" ry="1.2" transform="rotate(31 202.2 482)" fill="#e0202a" fill-opacity="0.95" filter="url(#f0_5)"/><ellipse cx="238" cy="463.2" rx="2.6" ry="1.2" transform="rotate(31 238 463.2)" fill="#e0202a" fill-opacity="0.95" filter="url(#f0_5)"/><ellipse cx="218" cy="468" rx="2.6" ry="1.2" transform="rotate(31 218 468)" fill="#e0202a" fill-opacity="0.95" filter="url(#f0_5)"/><ellipse cx="225.2" cy="464.4" rx="2.6" ry="1.2" transform="rotate(31 225.2 464.4)" fill="#e0202a" fill-opacity="0.95" filter="url(#f0_5)"/><ellipse cx="232.5" cy="462" rx="2.6" ry="1.2" transform="rotate(31 232.5 462)" fill="#e0202a" fill-opacity="0.95" filter="url(#f0_5)"/><ellipse cx="218" cy="468" rx="1.4" ry="0.9" transform="rotate(31 218 468)" fill="#ffe45a" fill-opacity="0.95" filter="url(#f0_4)"/><ellipse cx="225.2" cy="464.4" rx="1.4" ry="0.9" transform="rotate(31 225.2 464.4)" fill="#ffe45a" fill-opacity="0.95" filter="url(#f0_4)"/><ellipse cx="232.5" cy="462" rx="1.4" ry="0.9" transform="rotate(31 232.5 462)" fill="#ffe45a" fill-opacity="0.95" filter="url(#f0_4)"/><ellipse cx="240.4" cy="456.5" rx="1.4" ry="0.9" transform="rotate(31 240.4 456.5)" fill="#ffe45a" fill-opacity="0.95" filter="url(#f0_4)"/><ellipse cx="185" cy="326" rx="19" ry="2.2" transform="rotate(26 185 326)" fill="#e0202a" fill-opacity="0.85" filter="url(#f0_9)"/><ellipse cx="189" cy="328.5" rx="4.5" ry="1.3" transform="rotate(26 189 328.5)" fill="#f2641e" fill-opacity="0.9" filter="url(#f0_6)"/><ellipse cx="217" cy="387.5" rx="5" ry="1.3" transform="rotate(33 217 387.5)" fill="#e0202a" fill-opacity="0.85" filter="url(#f0_7)"/><ellipse cx="257.5" cy="452.2" rx="8.5" ry="2.2" transform="rotate(32 257.5 452.2)" fill="#e0202a" fill-opacity="0.95" filter="url(#f0_8)"/><ellipse cx="257.5" cy="452.2" rx="5" ry="1.2" transform="rotate(32 257.5 452.2)" fill="#ffe45a" fill-opacity="0.95" filter="url(#f0_5)"/><ellipse cx="279" cy="445.5" rx="12" ry="2.6" transform="rotate(28 279 445.5)" fill="#e0202a" fill-opacity="0.95" filter="url(#f0_8)"/><ellipse cx="278" cy="445" rx="7" ry="1.4" transform="rotate(28 278 445)" fill="#ffe45a" fill-opacity="0.95" filter="url(#f0_5)"/><ellipse cx="282.4" cy="433.4" rx="4" ry="1.2" transform="rotate(28 282.4 433.4)" fill="#e0202a" fill-opacity="0.85" filter="url(#f0_7)"/><ellipse cx="256.2" cy="472.3" rx="4" ry="1" transform="rotate(28 256.2 472.3)" fill="#e0202a" fill-opacity="0.6" filter="url(#f0_7)"/></g><g stroke-linecap="square"><line x1="67.9" y1="460.1" x2="67.9" y2="266.2" stroke="#262626" stroke-width="1.6"/><line x1="67.9" y1="460.1" x2="170.8" y2="527.7" stroke="#262626" stroke-width="1.6"/><line x1="170.8" y1="527.7" x2="295.83" y2="480.06" stroke="#262626" stroke-width="1.6"/><line x1="67.9" y1="437.29" x2="63.3" y2="434.27" stroke="#262626" stroke-width="1.6"/><line x1="67.9" y1="380.26" x2="63.3" y2="377.24" stroke="#262626" stroke-width="1.6"/><line x1="67.9" y1="323.23" x2="63.3" y2="320.21" stroke="#262626" stroke-width="1.6"/><line x1="67.9" y1="266.2" x2="63.3" y2="263.18" stroke="#262626" stroke-width="1.6"/><line x1="170.8" y1="527.7" x2="165.66" y2="529.66" stroke="#262626" stroke-width="1.6"/><line x1="131.22" y1="501.7" x2="126.08" y2="503.66" stroke="#262626" stroke-width="1.6"/><line x1="91.64" y1="475.7" x2="86.51" y2="477.66" stroke="#262626" stroke-width="1.6"/><line x1="181.22" y1="523.73" x2="185.81" y2="526.75" stroke="#262626" stroke-width="1.6"/><line x1="233.31" y1="503.88" x2="237.91" y2="506.9" stroke="#262626" stroke-width="1.6"/><line x1="285.42" y1="484.03" x2="290.01" y2="487.05" stroke="#262626" stroke-width="1.6"/></g><g fill="#262626"><text x="57.6" y="261.2" font-size="19" text-anchor="end" dominant-baseline="central">2</text><text x="57.6" y="318.23" font-size="19" text-anchor="end" dominant-baseline="central">1.5</text><text x="57.6" y="375.26" font-size="19" text-anchor="end" dominant-baseline="central">1</text><text x="57.6" y="432.29" font-size="19" text-anchor="end" dominant-baseline="central">0.5</text><text x="80.64" y="491.7" font-size="19" text-anchor="end" dominant-baseline="central">5.5</text><text x="120.22" y="517.7" font-size="19" text-anchor="end" dominant-baseline="central">5</text><text x="159.8" y="543.7" font-size="19" text-anchor="end" dominant-baseline="central">4.5</text><text x="191.52" y="541.63" font-size="19" text-anchor="start" dominant-baseline="central">-0.5</text><text x="243.62" y="521.78" font-size="19" text-anchor="start" dominant-baseline="central">0</text><text x="295.72" y="501.93" font-size="19" text-anchor="start" dominant-baseline="central">0.5</text><text x="76.4" y="550.6" font-size="19" text-anchor="middle" dominant-baseline="central">Y/m</text><text x="278.3" y="554.5" font-size="19" text-anchor="middle" dominant-baseline="central">X/m</text><text x="0" y="0" font-size="19" text-anchor="middle" dominant-baseline="central" transform="translate(19.4,363) rotate(-90)">Z/m</text></g><g stroke-linecap="square"><line x1="389.3" y1="64" x2="389.3" y2="11.3" stroke="#000" stroke-width="1.5" stroke-opacity="0.15"/><line x1="369.7" y1="134" x2="389.3" y2="64" stroke="#000" stroke-width="1.5" stroke-opacity="0.15"/><line x1="437.7" y1="76.47" x2="437.7" y2="23.77" stroke="#000" stroke-width="1.5" stroke-opacity="0.15"/><line x1="418.1" y1="146.47" x2="437.7" y2="76.47" stroke="#000" stroke-width="1.5" stroke-opacity="0.15"/><line x1="486.1" y1="88.95" x2="486.1" y2="36.25" stroke="#000" stroke-width="1.5" stroke-opacity="0.15"/><line x1="466.5" y1="158.95" x2="486.1" y2="88.95" stroke="#000" stroke-width="1.5" stroke-opacity="0.15"/><line x1="534.5" y1="101.43" x2="534.5" y2="48.73" stroke="#000" stroke-width="1.5" stroke-opacity="0.15"/><line x1="514.9" y1="171.43" x2="534.5" y2="101.43" stroke="#000" stroke-width="1.5" stroke-opacity="0.15"/><line x1="582.9" y1="113.9" x2="582.9" y2="61.2" stroke="#000" stroke-width="1.5" stroke-opacity="0.15"/><line x1="563.3" y1="183.9" x2="582.9" y2="113.9" stroke="#000" stroke-width="1.5" stroke-opacity="0.15"/><line x1="389.3" y1="64" x2="582.9" y2="113.9" stroke="#000" stroke-width="1.5" stroke-opacity="0.15"/><line x1="369.7" y1="134" x2="389.3" y2="64" stroke="#000" stroke-width="1.5" stroke-opacity="0.15"/><line x1="389.3" y1="37.65" x2="582.9" y2="87.55" stroke="#000" stroke-width="1.5" stroke-opacity="0.15"/><line x1="369.7" y1="107.65" x2="389.3" y2="37.65" stroke="#000" stroke-width="1.5" stroke-opacity="0.15"/><line x1="389.3" y1="11.3" x2="582.9" y2="61.2" stroke="#000" stroke-width="1.5" stroke-opacity="0.15"/><line x1="369.7" y1="81.3" x2="389.3" y2="11.3" stroke="#000" stroke-width="1.5" stroke-opacity="0.15"/><line x1="369.7" y1="134" x2="369.7" y2="81.3" stroke="#000" stroke-width="1.5" stroke-opacity="0.15"/><line x1="369.7" y1="134" x2="563.3" y2="183.9" stroke="#000" stroke-width="1.5" stroke-opacity="0.15"/><line x1="376.23" y1="110.67" x2="376.23" y2="57.97" stroke="#000" stroke-width="1.5" stroke-opacity="0.15"/><line x1="376.23" y1="110.67" x2="569.83" y2="160.57" stroke="#000" stroke-width="1.5" stroke-opacity="0.15"/><line x1="382.77" y1="87.33" x2="382.77" y2="34.63" stroke="#000" stroke-width="1.5" stroke-opacity="0.15"/><line x1="382.77" y1="87.33" x2="576.37" y2="137.23" stroke="#000" stroke-width="1.5" stroke-opacity="0.15"/><line x1="389.3" y1="64" x2="389.3" y2="11.3" stroke="#000" stroke-width="1.5" stroke-opacity="0.15"/><line x1="389.3" y1="64" x2="582.9" y2="113.9" stroke="#000" stroke-width="1.5" stroke-opacity="0.15"/></g><path d="M443.3 81.2h1.9v4.5h-1.9zM437.2 97.5h1.5v4.4h-1.5zM530.1 136.5h1.5v2.8h-1.5zM445.1 104.1h1.7v2.6h-1.7zM485.7 103.7h2.7v4.8h-2.7zM499.9 110.4h2.2v3.9h-2.2zM507.9 117.6h2.8v4.6h-2.8zM413.6 102.3h2.1v2.6h-2.1zM404.1 107.8h1.9v4.9h-1.9zM400.6 87.3h2.7v3.0h-2.7zM481.8 99.2h1.5v2.9h-1.5zM520.0 110.7h2.1v4.1h-2.1zM543.2 143.3h2.3v3.3h-2.3zM452.2 87.9h2.2v4.2h-2.2zM437.4 122.7h1.9v2.8h-1.9zM474.6 127.6h2.1v2.9h-2.1zM554.6 128.8h2.2v4.0h-2.2zM428.6 102.1h2.0v3.8h-2.0zM472.5 90.5h2.2v4.8h-2.2zM419.8 83.3h2.9v3.7h-2.9zM461.4 78.0h1.7v4.6h-1.7zM465.8 85.7h1.7v3.2h-1.7zM542.0 123.3h1.6v3.7h-1.6zM486.4 141.7h2.5v3.4h-2.5zM497.5 93.8h2.1v4.0h-2.1zM519.3 121.7h2.9v4.2h-2.9zM423.4 71.4h2.7v4.9h-2.7zM482.6 114.9h2.9v3.2h-2.9zM545.7 137.5h2.6v4.1h-2.6zM443.2 87.1h2.5v4.3h-2.5zM452.9 112.5h3.0v3.3h-3.0zM472.1 91.4h2.5v3.3h-2.5zM474.1 94.9h2.0v2.8h-2.0zM523.5 106.8h1.6v3.3h-1.6zM514.8 116.0h2.7v4.2h-2.7zM449.8 103.0h2.3v3.4h-2.3zM483.5 74.4h2.6v3.8h-2.6zM498.3 120.3h1.9v4.1h-1.9zM519.1 106.8h1.5v2.8h-1.5zM515.2 92.5h2.4v2.9h-2.4zM526.0 138.9h2.6v3.9h-2.6zM414.2 77.9h2.8v2.8h-2.8zM508.2 83.1h2.6v2.8h-2.6zM515.6 130.9h2.7v4.2h-2.7zM545.8 128.5h2.0v3.3h-2.0zM427.1 86.9h2.3v4.5h-2.3zM453.2 89.6h2.0v4.8h-2.0zM478.3 96.7h2.3v3.1h-2.3zM498.2 127.9h2.9v4.4h-2.9zM418.2 68.4h1.5v2.8h-1.5zM459.0 110.9h2.0v4.3h-2.0zM477.6 103.0h2.2v3.5h-2.2zM442.4 94.3h2.9v3.2h-2.9zM456.7 96.9h2.7v4.8h-2.7zM507.7 120.6h1.6v4.8h-1.6zM480.4 101.4h1.9v3.6h-1.9zM463.8 83.5h1.6v3.5h-1.6zM569.7 127.4h2.3v3.1h-2.3zM571.6 121.1h2.1v2.8h-2.1zM407.8 92.7h2.8v5.0h-2.8zM508.1 108.2h1.8v2.8h-1.8zM497.4 116.7h1.9v3.4h-1.9zM502.9 90.6h2.0v3.5h-2.0zM456.8 97.9h2.3v3.2h-2.3zM461.7 108.4h2.3v3.6h-2.3zM444.7 93.8h1.7v4.3h-1.7zM517.0 124.8h2.3v5.0h-2.3zM513.4 106.9h2.1v3.4h-2.1zM503.9 96.9h2.9v4.9h-2.9zM457.2 90.1h2.0v3.6h-2.0zM444.2 98.9h2.6v3.5h-2.6zM461.8 90.7h2.9v3.2h-2.9zM473.0 84.0h1.8v4.6h-1.8zM439.6 117.2h2.5v4.6h-2.5zM524.6 98.0h1.7v3.4h-1.7zM446.5 105.5h1.8v4.1h-1.8zM478.9 101.2h1.9v3.1h-1.9zM512.9 132.9h2.6v3.7h-2.6zM519.4 121.6h2.4v4.7h-2.4zM538.8 148.9h2.3v4.0h-2.3zM464.4 101.7h2.5v3.1h-2.5zM472.8 62.7h2.2v5.0h-2.2zM462.7 98.3h2.4v4.1h-2.4zM473.3 94.5h1.7v2.7h-1.7zM496.5 96.5h2.0v2.6h-2.0zM439.9 119.4h3.0v5.0h-3.0zM484.7 83.5h2.9v4.9h-2.9zM507.3 116.3h2.7v2.7h-2.7zM473.5 82.5h2.8v3.6h-2.8zM494.6 118.1h2.2v4.4h-2.2zM496.4 110.2h2.2v2.7h-2.2zM516.7 108.4h2.3v4.4h-2.3zM457.4 98.0h2.5v3.3h-2.5zM465.5 122.5h1.6v4.3h-1.6zM544.6 119.0h2.7v3.5h-2.7zM435.3 87.4h1.7v4.6h-1.7zM505.4 128.9h2.7v3.1h-2.7zM487.8 95.5h3.0v3.9h-3.0zM564.6 113.6h1.6v3.5h-1.6zM504.0 98.0h1.9v2.5h-1.9zM507.4 124.0h2.9v4.2h-2.9zM420.4 108.5h2.7v3.1h-2.7zM454.1 97.1h1.5v3.8h-1.5zM466.3 92.7h2.6v4.5h-2.6zM450.7 88.8h2.7v4.1h-2.7zM522.2 111.7h3.0v3.8h-3.0zM455.0 111.8h1.9v3.6h-1.9zM437.9 79.5h2.7v3.1h-2.7zM512.1 100.0h1.9v4.3h-1.9zM501.3 121.4h2.2v4.8h-2.2zM551.5 139.7h1.8v3.6h-1.8zM462.6 98.7h1.8v3.3h-1.8zM442.7 84.1h1.7v3.9h-1.7zM487.9 109.0h2.3v3.7h-2.3zM490.8 100.4h2.5v4.7h-2.5zM537.7 119.3h2.3v3.3h-2.3z" fill="#5a5080" fill-opacity="0.12" filter="url(#f0_8)"/><path d="M453.9 97.1h2.0v3.6h-2.0zM492.3 131.7h1.7v3.2h-1.7zM397.5 88.7h1.8v4.9h-1.8zM471.5 93.4h2.0v4.2h-2.0zM424.6 88.9h3.0v2.5h-3.0zM487.7 88.0h2.7v5.0h-2.7zM546.3 95.9h1.6v3.8h-1.6zM484.2 100.8h2.2v4.6h-2.2zM530.7 112.6h2.5v4.4h-2.5zM499.6 98.4h2.0v3.7h-2.0zM496.9 108.7h1.9v3.6h-1.9zM535.2 119.2h2.6v3.2h-2.6zM511.0 130.9h2.7v3.6h-2.7zM517.9 110.7h1.9v3.4h-1.9zM491.2 114.3h2.6v4.5h-2.6zM493.7 122.3h1.9v4.0h-1.9zM499.8 103.1h2.1v3.8h-2.1zM478.8 89.3h2.0v4.7h-2.0zM501.4 96.3h1.7v3.8h-1.7zM483.5 117.9h3.0v4.1h-3.0zM455.2 98.1h1.5v3.7h-1.5zM435.1 98.6h1.9v2.9h-1.9zM546.6 136.5h2.6v3.3h-2.6zM434.3 87.5h2.7v4.5h-2.7zM422.2 117.5h2.3v4.0h-2.3zM513.0 117.5h2.1v3.2h-2.1zM423.7 80.3h1.6v2.9h-1.6zM530.2 146.3h2.4v2.7h-2.4zM477.0 106.9h2.7v3.3h-2.7zM543.7 125.6h1.7v4.1h-1.7zM552.1 126.0h2.1v3.9h-2.1zM528.9 115.5h2.3v4.9h-2.3zM503.3 122.6h2.7v3.3h-2.7zM528.9 134.8h2.4v2.9h-2.4zM503.9 131.8h2.1v4.1h-2.1zM463.2 116.1h1.8v4.1h-1.8zM519.8 95.3h2.6v3.8h-2.6zM569.3 118.6h1.5v2.6h-1.5zM459.1 84.3h1.7v3.3h-1.7zM561.7 108.2h2.6v3.1h-2.6zM459.8 103.7h2.3v3.2h-2.3zM479.5 106.2h3.0v4.7h-3.0zM507.8 105.7h2.8v2.9h-2.8zM515.5 112.6h2.4v3.7h-2.4zM492.6 112.5h2.7v3.9h-2.7zM491.6 119.2h2.2v3.3h-2.2z" fill="#5a5080" fill-opacity="0.22" filter="url(#f0_8)"/><g filter="url(#txv)"><ellipse cx="488.4" cy="110" rx="90" ry="26" transform="rotate(15 488.4 110)" fill="#504a72" fill-opacity="0.24" filter="url(#f7_0)"/><ellipse cx="413.4" cy="80" rx="16" ry="12" transform="rotate(10 413.4 80)" fill="#504a72" fill-opacity="0.3" filter="url(#f4_0)"/><ellipse cx="401.4" cy="68" rx="3" ry="6" fill="#504a72" fill-opacity="0.21" filter="url(#f2_0)"/><ellipse cx="409.4" cy="80" rx="4" ry="7" fill="#504a72" fill-opacity="0.28" filter="url(#f2_0)"/><ellipse cx="423.4" cy="83" rx="5" ry="10" fill="#504a72" fill-opacity="0.5" filter="url(#f2_0)"/><ellipse cx="426.4" cy="101" rx="4" ry="8" fill="#504a72" fill-opacity="0.35" filter="url(#f2_0)"/><ellipse cx="420.4" cy="108" rx="4" ry="6" fill="#504a72" fill-opacity="0.3" filter="url(#f2_0)"/><ellipse cx="435.4" cy="92" rx="10" ry="12" fill="#3a2090" fill-opacity="0.45" filter="url(#f3_0)"/><ellipse cx="440.4" cy="117" rx="6" ry="8" fill="#504a72" fill-opacity="0.4" filter="url(#f3_0)"/><ellipse cx="498.4" cy="116" rx="50" ry="14" transform="rotate(18 498.4 116)" fill="#3a2090" fill-opacity="0.35" filter="url(#f5_0)"/><ellipse cx="468.4" cy="110" rx="24" ry="26" fill="#3a2090" fill-opacity="0.9" filter="url(#f4_0)"/><ellipse cx="463.4" cy="106" rx="14" ry="18" fill="#22125a" fill-opacity="0.65" filter="url(#f4_0)"/><ellipse cx="466.4" cy="110" rx="20" ry="22" fill="#241c3a" fill-opacity="0.3" filter="url(#f5_0)"/><ellipse cx="485.4" cy="116" rx="10" ry="18" fill="#3a2090" fill-opacity="0.65" filter="url(#f3_0)"/><ellipse cx="498.4" cy="121" rx="6" ry="9" fill="#3a2090" fill-opacity="0.55" filter="url(#f2_0)"/><ellipse cx="508.4" cy="125" rx="6" ry="7" fill="#3a2090" fill-opacity="0.5" filter="url(#f2_0)"/><ellipse cx="506.4" cy="109" rx="6" ry="10" fill="#3a2090" fill-opacity="0.45" filter="url(#f2_0)"/><ellipse cx="522.4" cy="110" rx="12" ry="14" fill="#3a2090" fill-opacity="0.3" filter="url(#f3_0)"/><ellipse cx="531.4" cy="130" rx="4" ry="5" fill="#504a72" fill-opacity="0.35" filter="url(#f2_0)"/><ellipse cx="545.4" cy="98" rx="4" ry="7" fill="#504a72" fill-opacity="0.35" filter="url(#f2_0)"/><ellipse cx="558.4" cy="105" rx="4" ry="7" fill="#504a72" fill-opacity="0.35" filter="url(#f2_0)"/><ellipse cx="548.4" cy="127" rx="4" ry="6" fill="#504a72" fill-opacity="0.3" filter="url(#f2_0)"/><ellipse cx="574.4" cy="92" rx="3" ry="5" fill="#504a72" fill-opacity="0.25" filter="url(#f2_0)"/><ellipse cx="480.8" cy="86.6" rx="3" ry="3" fill="#3a2090" fill-opacity="0.6" filter="url(#f1_0)"/></g><g><ellipse cx="453.7" cy="97" rx="1.3" ry="2.2" fill="#e0202a" fill-opacity="0.95" filter="url(#f0_5)"/><ellipse cx="453" cy="107.3" rx="1.3" ry="2.2" fill="#e0202a" fill-opacity="0.95" filter="url(#f0_5)"/><ellipse cx="471.2" cy="117" rx="1.3" ry="2.2" fill="#e0202a" fill-opacity="0.95" filter="url(#f0_5)"/><ellipse cx="479" cy="121.6" rx="1.3" ry="2.2" fill="#e0202a" fill-opacity="0.95" filter="url(#f0_5)"/><ellipse cx="488.6" cy="119" rx="1.3" ry="2.2" fill="#e0202a" fill-opacity="0.95" filter="url(#f0_5)"/><ellipse cx="460.2" cy="106.7" rx="1.4" ry="2.5" fill="#ffe45a" fill-opacity="0.95" filter="url(#f0_7)"/></g><g><line x1="369.7" y1="134" x2="369.7" y2="81.3" stroke="#262626" stroke-width="1.3"/><line x1="369.7" y1="134" x2="563.3" y2="183.9" stroke="#262626" stroke-width="1.3"/><line x1="563.3" y1="183.9" x2="582.9" y2="113.9" stroke="#262626" stroke-width="1.3"/><line x1="369.7" y1="134" x2="364.86" y2="132.75" stroke="#262626" stroke-width="1.3"/><line x1="369.7" y1="107.65" x2="364.86" y2="106.4" stroke="#262626" stroke-width="1.3"/><line x1="369.7" y1="81.3" x2="364.86" y2="80.05" stroke="#262626" stroke-width="1.3"/><line x1="369.7" y1="134" x2="368.35" y2="138.81" stroke="#262626" stroke-width="1.3"/><line x1="418.1" y1="146.47" x2="416.75" y2="151.29" stroke="#262626" stroke-width="1.3"/><line x1="466.5" y1="158.95" x2="465.15" y2="163.76" stroke="#262626" stroke-width="1.3"/><line x1="514.9" y1="171.43" x2="513.55" y2="176.24" stroke="#262626" stroke-width="1.3"/><line x1="563.3" y1="183.9" x2="561.95" y2="188.71" stroke="#262626" stroke-width="1.3"/><line x1="563.3" y1="183.9" x2="568.14" y2="185.15" stroke="#262626" stroke-width="1.3"/><line x1="569.83" y1="160.57" x2="574.68" y2="161.81" stroke="#262626" stroke-width="1.3"/><line x1="576.37" y1="137.23" x2="581.21" y2="138.48" stroke="#262626" stroke-width="1.3"/><line x1="582.9" y1="113.9" x2="587.74" y2="115.15" stroke="#262626" stroke-width="1.3"/></g><g fill="#262626"><text x="359.6" y="80.3" font-size="15.5" text-anchor="end" dominant-baseline="central">20</text><text x="359.6" y="106.65" font-size="15.5" text-anchor="end" dominant-baseline="central">0</text><text x="359.6" y="133" font-size="15.5" text-anchor="end" dominant-baseline="central">-20</text><text x="367" y="152.5" font-size="15.5" text-anchor="middle" dominant-baseline="central">-20</text><text x="415.4" y="164.97" font-size="15.5" text-anchor="middle" dominant-baseline="central">-10</text><text x="463.8" y="177.45" font-size="15.5" text-anchor="middle" dominant-baseline="central">0</text><text x="512.2" y="189.93" font-size="15.5" text-anchor="middle" dominant-baseline="central">10</text><text x="560.6" y="202.4" font-size="15.5" text-anchor="middle" dominant-baseline="central">20</text><text x="580.1" y="195.3" font-size="15.5" text-anchor="middle" dominant-baseline="central">45</text><text x="586.63" y="171.97" font-size="15.5" text-anchor="middle" dominant-baseline="central">50</text><text x="593.17" y="148.63" font-size="15.5" text-anchor="middle" dominant-baseline="central">55</text><text x="599.7" y="125.3" font-size="15.5" text-anchor="middle" dominant-baseline="central">60</text><text x="458.9" y="203.2" font-size="15.5" text-anchor="middle" dominant-baseline="central">X/m</text><text x="619.4" y="198.2" font-size="15.5" text-anchor="middle" dominant-baseline="central">Y/m</text><text x="0" y="0" font-size="15.5" text-anchor="middle" dominant-baseline="central" transform="translate(329.6,107.9) rotate(-90)">Z/m</text></g><g stroke-linecap="square"><line x1="391.72" y1="456.13" x2="391.72" y2="262.23" stroke="#000" stroke-width="1.5" stroke-opacity="0.15"/><line x1="494.62" y1="523.73" x2="391.72" y2="456.13" stroke="#000" stroke-width="1.5" stroke-opacity="0.15"/><line x1="443.82" y1="436.28" x2="443.82" y2="242.38" stroke="#000" stroke-width="1.5" stroke-opacity="0.15"/><line x1="546.71" y1="503.88" x2="443.82" y2="436.28" stroke="#000" stroke-width="1.5" stroke-opacity="0.15"/><line x1="495.92" y1="416.43" x2="495.92" y2="222.53" stroke="#000" stroke-width="1.5" stroke-opacity="0.15"/><line x1="598.82" y1="484.03" x2="495.92" y2="416.43" stroke="#000" stroke-width="1.5" stroke-opacity="0.15"/><line x1="609.23" y1="480.06" x2="609.23" y2="286.16" stroke="#000" stroke-width="1.5" stroke-opacity="0.15"/><line x1="484.19" y1="527.7" x2="609.23" y2="480.06" stroke="#000" stroke-width="1.5" stroke-opacity="0.15"/><line x1="569.66" y1="454.06" x2="569.66" y2="260.16" stroke="#000" stroke-width="1.5" stroke-opacity="0.15"/><line x1="444.62" y1="501.7" x2="569.66" y2="454.06" stroke="#000" stroke-width="1.5" stroke-opacity="0.15"/><line x1="530.08" y1="428.06" x2="530.08" y2="234.16" stroke="#000" stroke-width="1.5" stroke-opacity="0.15"/><line x1="405.04" y1="475.7" x2="530.08" y2="428.06" stroke="#000" stroke-width="1.5" stroke-opacity="0.15"/><line x1="381.3" y1="437.29" x2="506.34" y2="389.65" stroke="#000" stroke-width="1.5" stroke-opacity="0.15"/><line x1="609.23" y1="457.25" x2="506.34" y2="389.65" stroke="#000" stroke-width="1.5" stroke-opacity="0.15"/><line x1="381.3" y1="380.26" x2="506.34" y2="332.62" stroke="#000" stroke-width="1.5" stroke-opacity="0.15"/><line x1="609.23" y1="400.22" x2="506.34" y2="332.62" stroke="#000" stroke-width="1.5" stroke-opacity="0.15"/><line x1="381.3" y1="323.23" x2="506.34" y2="275.59" stroke="#000" stroke-width="1.5" stroke-opacity="0.15"/><line x1="609.23" y1="343.19" x2="506.34" y2="275.59" stroke="#000" stroke-width="1.5" stroke-opacity="0.15"/><line x1="381.3" y1="266.2" x2="506.34" y2="218.56" stroke="#000" stroke-width="1.5" stroke-opacity="0.15"/><line x1="609.23" y1="286.16" x2="506.34" y2="218.56" stroke="#000" stroke-width="1.5" stroke-opacity="0.15"/></g><path d="M548.9 292.1l5.2 2.9M437.3 392.3l8.3 4.6M493.6 434.9l13.7 7.6M433.6 320.1l12.1 6.7M485.9 307.6l6.4 3.5M554.8 447.5l6.9 3.8M442.8 444.2l5.8 3.2M482.3 332.0l13.5 7.5M399.1 350.0l5.8 3.2M524.2 361.5l12.7 7.0M429.4 444.9l7.0 3.9M547.9 307.4l13.3 7.4M537.8 352.4l5.8 3.2M457.3 353.7l5.9 3.3M439.2 392.3l10.7 5.9M546.6 402.8l7.1 3.9M493.7 476.1l9.4 5.2M516.7 287.8l6.5 3.6M458.1 475.0l14.5 8.1M584.7 353.2l5.4 3.0M442.7 443.6l15.1 8.4M498.3 429.3l15.1 8.4M537.1 381.8l6.3 3.5M445.2 433.4l6.3 3.5M492.5 408.8l10.8 6.0M488.1 409.6l9.8 5.5M422.7 450.6l7.2 4.0M451.9 475.6l7.0 3.9M519.7 342.6l11.6 6.4M589.9 292.8l12.5 6.9M477.1 314.3l13.2 7.3M469.7 306.2l6.8 3.7M401.6 307.3l8.9 4.9M458.5 374.2l12.9 7.1M536.2 323.0l12.2 6.8M525.6 322.2l7.9 4.4M500.3 445.1l12.5 6.9M517.7 284.8l10.4 5.8M475.8 489.8l9.7 5.4M567.9 367.9l9.9 5.5M423.9 405.6l11.4 6.3M534.8 365.4l13.3 7.4M532.2 443.0l15.7 8.7M438.9 457.9l4.6 2.5M434.9 304.2l5.2 2.9M460.3 328.6l5.2 2.9M480.3 474.2l5.3 3.0M477.2 458.2l14.3 7.9M478.7 259.0l6.7 3.7" stroke="#9a9aa4" stroke-opacity="0.12" stroke-width="1" fill="none"/><path d="M536.8 299.7l14.9 8.3M438.5 374.6l14.8 8.2M458.5 385.7l6.6 3.6M432.6 381.0l5.1 2.8M510.8 346.1l12.1 6.7M494.5 401.2l9.0 5.0M509.6 340.3l9.0 5.0M596.7 366.2l10.5 5.8M576.8 342.9l13.2 7.3M448.5 419.3l15.3 8.5M519.5 400.7l12.2 6.8M522.3 361.0l8.1 4.5M575.7 426.5l5.7 3.1M475.2 350.7l10.9 6.0M521.7 485.5l8.3 4.6M471.7 330.2l12.2 6.8M454.5 324.4l7.1 3.9M532.2 345.3l12.0 6.6M593.5 400.0l9.5 5.3M442.6 418.3l4.4 2.5M428.3 463.9l5.5 3.0M493.5 293.0l12.4 6.9M448.9 274.6l11.4 6.3M504.6 421.5l9.9 5.5M494.3 389.8l12.2 6.8M418.0 308.0l12.2 6.7M576.7 445.8l11.9 6.6M424.8 328.9l9.9 5.5M569.4 379.9l14.4 8.0M458.7 369.0l9.9 5.5M444.8 347.6l8.4 4.6M465.1 416.6l7.6 4.2M477.5 469.7l12.0 6.6M471.2 284.0l5.0 2.8M491.7 337.8l8.6 4.8M479.6 461.0l15.5 8.6M510.9 512.7l11.6 6.4M459.3 481.6l13.8 7.6M537.2 407.5l8.7 4.8M474.4 385.7l12.8 7.1" stroke="#9a9aa4" stroke-opacity="0.23" stroke-width="1" fill="none"/><path d="M537.7 414.3l14.0 7.7M568.8 445.8l13.4 7.4M485.9 369.8l10.7 5.9M483.9 420.4l9.6 5.3M409.4 306.5l7.2 4.0M532.3 481.0l14.6 8.1M536.4 467.1l10.3 5.7M583.5 376.4l4.5 2.5M561.6 339.6l14.3 7.9M431.4 319.8l15.2 8.4M555.9 288.9l4.9 2.7M501.6 294.8l8.8 4.9M482.6 417.3l13.0 7.2M493.1 266.4l12.5 6.9M478.0 435.0l6.0 3.3M508.5 339.8l6.4 3.5M410.5 352.8l7.6 4.2M393.0 326.0l8.4 4.6M570.1 482.7l6.3 3.5M469.6 426.1l6.4 3.5M478.1 276.9l13.1 7.2" stroke="#9a9aa4" stroke-opacity="0.35" stroke-width="1" fill="none"/><g transform="rotate(33 493.4 400)"><g filter="url(#txd)"><g transform="rotate(-33 493.4 400)"><ellipse cx="403.4" cy="302" rx="6" ry="3" transform="rotate(30 403.4 302)" fill="#504a72" fill-opacity="0.3" filter="url(#f1_5)"/><ellipse cx="399.4" cy="318" rx="6" ry="3" transform="rotate(30 399.4 318)" fill="#504a72" fill-opacity="0.25" filter="url(#f1_5)"/><ellipse cx="398.4" cy="352" rx="7" ry="3" transform="rotate(30 398.4 352)" fill="#504a72" fill-opacity="0.3" filter="url(#f1_5)"/><ellipse cx="405.4" cy="360" rx="6" ry="3" transform="rotate(30 405.4 360)" fill="#504a72" fill-opacity="0.25" filter="url(#f1_5)"/><ellipse cx="504.4" cy="328" rx="20" ry="7" transform="rotate(30 504.4 328)" fill="#3a2090" fill-opacity="0.2" filter="url(#f3_0)"/><ellipse cx="504.4" cy="328" rx="8" ry="3.5" transform="rotate(30 504.4 328)" fill="#22125a" fill-opacity="0.4" filter="url(#f1_5)"/><ellipse cx="547.4" cy="398" rx="10" ry="3" transform="rotate(33 547.4 398)" fill="#504a72" fill-opacity="0.3" filter="url(#f2_0)"/><ellipse cx="453.4" cy="452" rx="80" ry="8" transform="rotate(35 453.4 452)" fill="#504a72" fill-opacity="0.28" filter="url(#f4_0)"/><ellipse cx="518.4" cy="475" rx="28" ry="14" transform="rotate(31 518.4 475)" fill="#504a72" fill-opacity="0.3" filter="url(#f5_0)"/><ellipse cx="567.4" cy="447" rx="15" ry="5" transform="rotate(31 567.4 447)" fill="#22125a" fill-opacity="0.92" filter="url(#f1_5)"/><ellipse cx="589.4" cy="441" rx="17" ry="7" transform="rotate(31 589.4 441)" fill="#22125a" fill-opacity="0.92" filter="url(#f2_0)"/><ellipse cx="543.4" cy="460" rx="19" ry="7" transform="rotate(31 543.4 460)" fill="#22125a" fill-opacity="0.75" filter="url(#f2_0)"/><ellipse cx="519.4" cy="470" rx="13" ry="6.5" transform="rotate(31 519.4 470)" fill="#3a2090" fill-opacity="0.7" filter="url(#f2_0)"/><ellipse cx="577.4" cy="464" rx="22" ry="6" transform="rotate(31 577.4 464)" fill="#3a2090" fill-opacity="0.5" filter="url(#f3_0)"/><ellipse cx="533.4" cy="480" rx="18" ry="5" transform="rotate(31 533.4 480)" fill="#504a72" fill-opacity="0.3" filter="url(#f3_0)"/></g></g></g><g><ellipse cx="503.4" cy="327" rx="14" ry="4.8" transform="rotate(30 503.4 327)" fill="#3c1d90" fill-opacity="0.8" filter="url(#f1_5)"/><ellipse cx="535.4" cy="390" rx="12" ry="3.5" transform="rotate(33 535.4 390)" fill="#3c1d90" fill-opacity="0.65" filter="url(#f1_5)"/><ellipse cx="531" cy="461.3" rx="2.6" ry="1.3" transform="rotate(31 531 461.3)" fill="#e0202a" fill-opacity="0.95" filter="url(#f0_5)"/><ellipse cx="531" cy="467.4" rx="2.6" ry="1.3" transform="rotate(31 531 467.4)" fill="#e0202a" fill-opacity="0.95" filter="url(#f0_5)"/><ellipse cx="521.8" cy="469.2" rx="2.6" ry="1.3" transform="rotate(31 521.8 469.2)" fill="#e0202a" fill-opacity="0.95" filter="url(#f0_5)"/><ellipse cx="521.2" cy="474" rx="2.6" ry="1.3" transform="rotate(31 521.2 474)" fill="#e0202a" fill-opacity="0.95" filter="url(#f0_5)"/><ellipse cx="518.2" cy="479" rx="2.6" ry="1.3" transform="rotate(31 518.2 479)" fill="#e0202a" fill-opacity="0.95" filter="url(#f0_5)"/><ellipse cx="550.4" cy="463.2" rx="2.6" ry="1.3" transform="rotate(31 550.4 463.2)" fill="#e0202a" fill-opacity="0.95" filter="url(#f0_5)"/><ellipse cx="554.1" cy="456.5" rx="2.6" ry="1.3" transform="rotate(31 554.1 456.5)" fill="#e0202a" fill-opacity="0.95" filter="url(#f0_5)"/><ellipse cx="558.9" cy="460.1" rx="2.6" ry="1.3" transform="rotate(31 558.9 460.1)" fill="#e0202a" fill-opacity="0.95" filter="url(#f0_5)"/><ellipse cx="593.6" cy="439.4" rx="2.6" ry="1.3" transform="rotate(31 593.6 439.4)" fill="#e0202a" fill-opacity="0.95" filter="url(#f0_5)"/><ellipse cx="502.4" cy="326" rx="5" ry="1.8" transform="rotate(30 502.4 326)" fill="#e0202a" fill-opacity="0.85" filter="url(#f0_8)"/><ellipse cx="535.4" cy="464" rx="6" ry="2.2" transform="rotate(31 535.4 464)" fill="#e0202a" fill-opacity="0.95" filter="url(#f0_7)"/><ellipse cx="538.9" cy="465.6" rx="2.5" ry="1.8" transform="rotate(31 538.9 465.6)" fill="#ffe45a" fill-opacity="0.95" filter="url(#f0_5)"/><ellipse cx="546.2" cy="459.5" rx="3" ry="1.6" transform="rotate(31 546.2 459.5)" fill="#e0202a" fill-opacity="0.95" filter="url(#f0_5)"/><ellipse cx="546.2" cy="459.5" rx="1.5" ry="1" transform="rotate(31 546.2 459.5)" fill="#ffe45a" fill-opacity="0.95" filter="url(#f0_4)"/><ellipse cx="569.9" cy="447.5" rx="8" ry="2.2" transform="rotate(31 569.9 447.5)" fill="#e0202a" fill-opacity="0.95" filter="url(#f0_8)"/><ellipse cx="571.1" cy="447.3" rx="3.5" ry="1.3" transform="rotate(31 571.1 447.3)" fill="#ffe45a" fill-opacity="0.95" filter="url(#f0_5)"/><ellipse cx="585.7" cy="442.5" rx="4.5" ry="2" transform="rotate(31 585.7 442.5)" fill="#e0202a" fill-opacity="0.95" filter="url(#f0_7)"/><ellipse cx="585.7" cy="442.5" rx="2.5" ry="1.2" transform="rotate(31 585.7 442.5)" fill="#ffe45a" fill-opacity="0.95" filter="url(#f0_5)"/><ellipse cx="596.6" cy="448.6" rx="4.5" ry="2.2" transform="rotate(31 596.6 448.6)" fill="#e0202a" fill-opacity="0.95" filter="url(#f0_7)"/><ellipse cx="596.6" cy="448.6" rx="2.5" ry="1.3" transform="rotate(31 596.6 448.6)" fill="#ffe45a" fill-opacity="0.95" filter="url(#f0_5)"/><ellipse cx="601.5" cy="438.2" rx="3" ry="1.8" transform="rotate(31 601.5 438.2)" fill="#f2641e" fill-opacity="0.9" filter="url(#f0_7)"/></g><g stroke-linecap="square"><line x1="381.3" y1="460.1" x2="381.3" y2="266.2" stroke="#262626" stroke-width="1.6"/><line x1="381.3" y1="460.1" x2="484.19" y2="527.7" stroke="#262626" stroke-width="1.6"/><line x1="484.19" y1="527.7" x2="609.23" y2="480.06" stroke="#262626" stroke-width="1.6"/><line x1="381.3" y1="437.29" x2="376.7" y2="434.27" stroke="#262626" stroke-width="1.6"/><line x1="381.3" y1="380.26" x2="376.7" y2="377.24" stroke="#262626" stroke-width="1.6"/><line x1="381.3" y1="323.23" x2="376.7" y2="320.21" stroke="#262626" stroke-width="1.6"/><line x1="381.3" y1="266.2" x2="376.7" y2="263.18" stroke="#262626" stroke-width="1.6"/><line x1="484.19" y1="527.7" x2="479.06" y2="529.66" stroke="#262626" stroke-width="1.6"/><line x1="444.62" y1="501.7" x2="439.48" y2="503.66" stroke="#262626" stroke-width="1.6"/><line x1="405.04" y1="475.7" x2="399.91" y2="477.66" stroke="#262626" stroke-width="1.6"/><line x1="494.62" y1="523.73" x2="499.21" y2="526.75" stroke="#262626" stroke-width="1.6"/><line x1="546.71" y1="503.88" x2="551.31" y2="506.9" stroke="#262626" stroke-width="1.6"/><line x1="598.82" y1="484.03" x2="603.41" y2="487.05" stroke="#262626" stroke-width="1.6"/></g><g fill="#262626"><text x="371" y="261.2" font-size="19" text-anchor="end" dominant-baseline="central">2</text><text x="371" y="318.23" font-size="19" text-anchor="end" dominant-baseline="central">1.5</text><text x="371" y="375.26" font-size="19" text-anchor="end" dominant-baseline="central">1</text><text x="371" y="432.29" font-size="19" text-anchor="end" dominant-baseline="central">0.5</text><text x="394.04" y="491.7" font-size="19" text-anchor="end" dominant-baseline="central">5.5</text><text x="433.62" y="517.7" font-size="19" text-anchor="end" dominant-baseline="central">5</text><text x="473.19" y="543.7" font-size="19" text-anchor="end" dominant-baseline="central">4.5</text><text x="504.92" y="541.63" font-size="19" text-anchor="start" dominant-baseline="central">-0.5</text><text x="557.01" y="521.78" font-size="19" text-anchor="start" dominant-baseline="central">0</text><text x="609.12" y="501.93" font-size="19" text-anchor="start" dominant-baseline="central">0.5</text><text x="389.8" y="550.6" font-size="19" text-anchor="middle" dominant-baseline="central">Y/m</text><text x="591.7" y="554.5" font-size="19" text-anchor="middle" dominant-baseline="central">X/m</text><text x="0" y="0" font-size="19" text-anchor="middle" dominant-baseline="central" transform="translate(332.8,363) rotate(-90)">Z/m</text></g><g stroke-linecap="square"><line x1="711" y1="64" x2="711" y2="11.3" stroke="#000" stroke-width="1.5" stroke-opacity="0.15"/><line x1="691.4" y1="134" x2="711" y2="64" stroke="#000" stroke-width="1.5" stroke-opacity="0.15"/><line x1="759.4" y1="76.47" x2="759.4" y2="23.77" stroke="#000" stroke-width="1.5" stroke-opacity="0.15"/><line x1="739.8" y1="146.47" x2="759.4" y2="76.47" stroke="#000" stroke-width="1.5" stroke-opacity="0.15"/><line x1="807.8" y1="88.95" x2="807.8" y2="36.25" stroke="#000" stroke-width="1.5" stroke-opacity="0.15"/><line x1="788.2" y1="158.95" x2="807.8" y2="88.95" stroke="#000" stroke-width="1.5" stroke-opacity="0.15"/><line x1="856.2" y1="101.43" x2="856.2" y2="48.73" stroke="#000" stroke-width="1.5" stroke-opacity="0.15"/><line x1="836.6" y1="171.43" x2="856.2" y2="101.43" stroke="#000" stroke-width="1.5" stroke-opacity="0.15"/><line x1="904.6" y1="113.9" x2="904.6" y2="61.2" stroke="#000" stroke-width="1.5" stroke-opacity="0.15"/><line x1="885" y1="183.9" x2="904.6" y2="113.9" stroke="#000" stroke-width="1.5" stroke-opacity="0.15"/><line x1="711" y1="64" x2="904.6" y2="113.9" stroke="#000" stroke-width="1.5" stroke-opacity="0.15"/><line x1="691.4" y1="134" x2="711" y2="64" stroke="#000" stroke-width="1.5" stroke-opacity="0.15"/><line x1="711" y1="37.65" x2="904.6" y2="87.55" stroke="#000" stroke-width="1.5" stroke-opacity="0.15"/><line x1="691.4" y1="107.65" x2="711" y2="37.65" stroke="#000" stroke-width="1.5" stroke-opacity="0.15"/><line x1="711" y1="11.3" x2="904.6" y2="61.2" stroke="#000" stroke-width="1.5" stroke-opacity="0.15"/><line x1="691.4" y1="81.3" x2="711" y2="11.3" stroke="#000" stroke-width="1.5" stroke-opacity="0.15"/><line x1="691.4" y1="134" x2="691.4" y2="81.3" stroke="#000" stroke-width="1.5" stroke-opacity="0.15"/><line x1="691.4" y1="134" x2="885" y2="183.9" stroke="#000" stroke-width="1.5" stroke-opacity="0.15"/><line x1="697.93" y1="110.67" x2="697.93" y2="57.97" stroke="#000" stroke-width="1.5" stroke-opacity="0.15"/><line x1="697.93" y1="110.67" x2="891.53" y2="160.57" stroke="#000" stroke-width="1.5" stroke-opacity="0.15"/><line x1="704.47" y1="87.33" x2="704.47" y2="34.63" stroke="#000" stroke-width="1.5" stroke-opacity="0.15"/><line x1="704.47" y1="87.33" x2="898.07" y2="137.23" stroke="#000" stroke-width="1.5" stroke-opacity="0.15"/><line x1="711" y1="64" x2="711" y2="11.3" stroke="#000" stroke-width="1.5" stroke-opacity="0.15"/><line x1="711" y1="64" x2="904.6" y2="113.9" stroke="#000" stroke-width="1.5" stroke-opacity="0.15"/></g><path d="M837.6 120.8h2.5v2.8h-2.5zM813.7 92.2h2.6v3.1h-2.6zM795.0 101.1h1.6v4.0h-1.6zM806.1 110.0h2.9v2.6h-2.9zM802.7 121.9h1.5v4.9h-1.5zM884.6 114.1h2.7v2.9h-2.7zM744.6 90.8h2.9v2.5h-2.9zM715.2 108.1h2.5v4.8h-2.5zM845.8 113.9h2.4v3.7h-2.4zM794.0 109.0h1.7v4.5h-1.7zM773.5 93.5h2.5v3.9h-2.5zM729.2 114.3h2.2v2.5h-2.2zM757.7 93.9h2.5v5.0h-2.5zM878.8 132.2h2.0v2.7h-2.0zM852.9 120.5h2.5v4.5h-2.5zM765.8 108.3h2.6v3.3h-2.6zM831.7 115.3h1.8v3.7h-1.8zM824.5 122.1h1.8v2.8h-1.8zM803.2 98.7h3.0v3.0h-3.0zM754.1 79.8h2.1v3.1h-2.1zM836.0 122.8h2.7v3.7h-2.7zM720.7 90.5h1.8v4.5h-1.8zM802.5 130.5h2.8v2.9h-2.8zM777.7 90.1h2.3v3.5h-2.3zM885.1 128.4h2.2v4.7h-2.2zM861.4 105.9h1.5v3.4h-1.5zM787.7 85.6h2.0v3.2h-2.0zM771.6 103.1h2.1v2.7h-2.1zM832.0 120.8h2.6v3.3h-2.6zM771.5 116.2h1.9v4.0h-1.9zM856.8 137.5h1.7v2.9h-1.7zM832.6 118.8h2.9v3.4h-2.9zM720.5 89.0h2.7v3.9h-2.7zM747.0 104.6h1.9v4.2h-1.9zM867.6 102.0h2.4v3.2h-2.4zM823.6 93.1h1.7v4.9h-1.7zM791.6 76.3h2.0v3.5h-2.0zM867.0 105.4h1.6v4.6h-1.6zM729.9 99.3h1.7v2.9h-1.7zM792.7 105.7h2.4v4.6h-2.4zM760.2 117.3h2.4v5.0h-2.4zM764.5 101.4h2.1v5.0h-2.1zM769.8 89.1h2.7v4.0h-2.7zM835.4 130.3h2.0v2.7h-2.0zM826.6 116.7h2.6v5.0h-2.6zM800.4 99.1h2.4v2.9h-2.4zM742.7 121.1h1.8v4.8h-1.8zM751.8 73.8h3.0v4.1h-3.0zM738.4 104.0h3.0v2.8h-3.0zM843.8 113.9h1.9v3.5h-1.9zM839.3 120.3h2.4v2.8h-2.4zM795.5 110.1h2.8v4.2h-2.8zM744.3 105.1h1.5v3.4h-1.5zM761.6 68.9h2.0v3.1h-2.0zM772.0 93.0h1.8v5.0h-1.8zM721.0 93.7h2.9v2.6h-2.9zM846.6 128.7h2.7v3.6h-2.7zM853.5 136.8h2.4v4.2h-2.4zM860.5 115.3h2.8v4.1h-2.8zM807.1 95.2h2.8v3.0h-2.8zM898.0 130.3h1.9v4.5h-1.9zM806.3 113.5h1.5v3.4h-1.5zM862.2 116.3h2.3v4.4h-2.3zM820.4 97.7h1.5v3.8h-1.5zM785.8 110.5h2.7v3.6h-2.7zM726.5 100.3h2.1v3.7h-2.1zM750.2 134.6h2.9v4.5h-2.9zM868.9 119.2h2.0v3.4h-2.0zM834.9 106.7h1.7v3.4h-1.7zM781.3 114.9h2.3v4.5h-2.3zM796.3 94.9h2.0v4.7h-2.0zM845.0 105.3h1.7v3.0h-1.7zM787.0 111.2h2.9v4.8h-2.9zM739.6 74.4h2.3v4.7h-2.3zM835.4 101.9h2.0v2.6h-2.0zM814.2 81.3h2.9v4.1h-2.9zM816.5 125.1h2.9v2.8h-2.9zM853.4 111.8h1.6v3.9h-1.6zM832.5 116.1h2.4v3.6h-2.4zM760.7 98.0h1.7v4.0h-1.7zM784.5 99.4h2.6v4.8h-2.6zM767.8 74.9h2.6v3.1h-2.6zM782.7 106.2h1.6v4.5h-1.6zM798.6 122.3h2.1v3.6h-2.1zM858.7 106.5h2.4v4.0h-2.4zM779.2 95.5h2.9v2.6h-2.9zM743.8 86.3h2.1v3.7h-2.1zM810.7 102.5h2.8v3.5h-2.8zM873.3 109.4h2.4v4.0h-2.4zM889.6 141.2h2.6v4.2h-2.6zM756.2 102.3h2.9v4.3h-2.9zM805.6 97.8h2.5v3.8h-2.5zM794.5 110.5h2.1v4.0h-2.1zM812.4 106.4h1.5v3.5h-1.5zM815.2 103.6h1.7v5.0h-1.7zM744.5 101.2h3.0v3.9h-3.0zM761.5 107.1h2.4v4.1h-2.4zM880.4 121.1h1.7v2.6h-1.7zM762.1 84.3h2.1v3.7h-2.1zM861.9 117.1h2.9v4.9h-2.9zM788.7 94.0h2.2v4.8h-2.2zM785.6 129.4h1.9v4.5h-1.9zM724.0 86.3h2.0v3.0h-2.0zM811.3 114.6h1.8v4.2h-1.8zM744.7 52.7h1.6v3.0h-1.6zM761.1 105.1h2.4v3.6h-2.4zM768.1 85.2h1.9v4.0h-1.9zM742.2 99.2h2.2v3.4h-2.2zM812.8 101.7h2.9v3.5h-2.9zM804.1 80.5h2.8v2.9h-2.8zM896.3 138.7h2.8v2.9h-2.8z" fill="#5a5080" fill-opacity="0.12" filter="url(#f0_8)"/><path d="M775.0 98.2h2.0v4.5h-2.0zM735.3 97.3h2.8v4.6h-2.8zM860.3 113.5h1.6v3.5h-1.6zM771.1 114.7h2.7v3.3h-2.7zM783.4 130.4h2.6v4.2h-2.6zM859.6 117.6h2.7v3.2h-2.7zM781.0 93.1h2.3v4.0h-2.3zM792.1 129.1h2.8v4.3h-2.8zM849.2 117.2h2.5v4.3h-2.5zM757.4 87.2h2.2v2.8h-2.2zM769.9 102.9h1.8v4.4h-1.8zM864.3 112.4h1.9v3.7h-1.9zM829.6 110.4h2.5v4.6h-2.5zM725.6 87.3h1.6v3.7h-1.6zM883.2 141.1h2.8v4.1h-2.8zM809.7 83.5h2.9v3.7h-2.9zM848.3 129.2h2.5v4.4h-2.5zM746.8 76.1h1.6v3.8h-1.6zM725.9 75.7h1.8v3.4h-1.8zM861.1 127.8h2.2v4.2h-2.2zM761.3 86.1h2.9v3.8h-2.9zM833.3 112.6h2.8v3.5h-2.8zM749.7 98.0h2.2v3.5h-2.2zM795.8 84.0h1.9v4.2h-1.9zM737.2 93.7h1.7v3.8h-1.7zM844.1 118.5h2.4v3.9h-2.4zM814.0 80.4h2.2v2.6h-2.2zM821.3 82.7h1.9v4.7h-1.9zM865.1 137.5h2.3v4.8h-2.3zM831.1 108.7h2.6v3.0h-2.6zM807.6 122.2h3.0v4.4h-3.0zM792.7 90.0h1.7v4.8h-1.7zM744.4 83.9h2.3v2.7h-2.3zM749.1 102.9h1.7v3.3h-1.7zM855.2 111.1h2.7v4.5h-2.7zM835.7 102.7h2.2v2.8h-2.2zM759.3 93.8h1.6v2.9h-1.6zM761.6 91.1h2.1v3.2h-2.1zM773.1 102.7h1.9v3.9h-1.9zM835.3 101.4h2.3v3.4h-2.3zM761.0 116.0h1.7v3.1h-1.7zM822.2 120.2h2.8v3.4h-2.8zM821.9 120.5h3.0v2.8h-3.0zM843.9 113.7h1.8v3.5h-1.8zM734.1 103.7h2.4v3.2h-2.4zM844.3 105.8h1.6v4.1h-1.6zM767.3 98.8h2.1v3.8h-2.1zM782.5 96.5h2.8v4.8h-2.8zM778.2 103.3h2.0v2.8h-2.0zM853.6 130.9h2.5v4.5h-2.5zM805.0 75.0h2.2v3.7h-2.2z" fill="#5a5080" fill-opacity="0.22" filter="url(#f0_8)"/><g filter="url(#txv)"><ellipse cx="805.1" cy="110" rx="85" ry="24" transform="rotate(15 805.1 110)" fill="#504a72" fill-opacity="0.2" filter="url(#f6_0)"/><ellipse cx="735.1" cy="80" rx="16" ry="12" transform="rotate(10 735.1 80)" fill="#504a72" fill-opacity="0.3" filter="url(#f4_0)"/><ellipse cx="723.1" cy="69" rx="4" ry="7" fill="#504a72" fill-opacity="0.28" filter="url(#f2_0)"/><ellipse cx="715.1" cy="77" rx="3" ry="6" fill="#504a72" fill-opacity="0.24" filter="url(#f2_0)"/><ellipse cx="729.6" cy="79.5" rx="3" ry="5" fill="#504a72" fill-opacity="0.35" filter="url(#f2_0)"/><ellipse cx="744.1" cy="85" rx="5" ry="10" fill="#504a72" fill-opacity="0.5" filter="url(#f2_0)"/><ellipse cx="755.6" cy="81" rx="3" ry="6" fill="#504a72" fill-opacity="0.4" filter="url(#f2_0)"/><ellipse cx="715.1" cy="95" rx="3" ry="5" fill="#504a72" fill-opacity="0.25" filter="url(#f2_0)"/><ellipse cx="740.1" cy="105" rx="4" ry="7" fill="#504a72" fill-opacity="0.4" filter="url(#f2_0)"/><ellipse cx="731.6" cy="105" rx="3" ry="6" fill="#504a72" fill-opacity="0.35" filter="url(#f2_0)"/><ellipse cx="760.1" cy="105" rx="6" ry="12" fill="#504a72" fill-opacity="0.35" filter="url(#f3_0)"/><ellipse cx="792.1" cy="108" rx="24" ry="23" transform="rotate(5 792.1 108)" fill="#3a2090" fill-opacity="0.9" filter="url(#f4_0)"/><ellipse cx="789.1" cy="108" rx="16" ry="16" fill="#22125a" fill-opacity="0.5" filter="url(#f4_0)"/><ellipse cx="791.1" cy="110" rx="20" ry="20" fill="#241c3a" fill-opacity="0.25" filter="url(#f5_0)"/><ellipse cx="812.1" cy="114" rx="9" ry="16" fill="#3a2090" fill-opacity="0.7" filter="url(#f3_0)"/><ellipse cx="828.7" cy="117" rx="5" ry="8" fill="#3a2090" fill-opacity="0.55" filter="url(#f2_0)"/><ellipse cx="854.7" cy="105.4" rx="5" ry="12" fill="#3a2090" fill-opacity="0.55" filter="url(#f2_0)"/><ellipse cx="853.4" cy="131.3" rx="5" ry="6" fill="#3a2090" fill-opacity="0.6" filter="url(#f2_0)"/><ellipse cx="846.9" cy="92.4" rx="4" ry="6" fill="#504a72" fill-opacity="0.35" filter="url(#f2_0)"/><ellipse cx="845.6" cy="105.4" rx="4" ry="6" fill="#504a72" fill-opacity="0.35" filter="url(#f2_0)"/><ellipse cx="878.1" cy="90" rx="4" ry="6" fill="#504a72" fill-opacity="0.3" filter="url(#f2_0)"/><ellipse cx="891.1" cy="117" rx="3" ry="5" fill="#504a72" fill-opacity="0.3" filter="url(#f2_0)"/><ellipse cx="888.1" cy="130" rx="3" ry="5" fill="#504a72" fill-opacity="0.25" filter="url(#f2_0)"/><ellipse cx="802.6" cy="86" rx="4" ry="4" fill="#3a2090" fill-opacity="0.8" filter="url(#f1_0)"/></g><g><ellipse cx="769.2" cy="105.4" rx="1.8" ry="2.6" fill="#e0202a" fill-opacity="0.95" filter="url(#f0_6)"/><ellipse cx="775.6" cy="107" rx="1.8" ry="2.6" fill="#e0202a" fill-opacity="0.95" filter="url(#f0_6)"/><ellipse cx="788.1" cy="109" rx="1.8" ry="2.6" fill="#e0202a" fill-opacity="0.95" filter="url(#f0_6)"/><ellipse cx="794.5" cy="100.2" rx="1.8" ry="2.6" fill="#e0202a" fill-opacity="0.95" filter="url(#f0_6)"/><ellipse cx="793.4" cy="121" rx="1.8" ry="2.6" fill="#e0202a" fill-opacity="0.95" filter="url(#f0_6)"/><ellipse cx="800.5" cy="119.5" rx="1.8" ry="2.6" fill="#e0202a" fill-opacity="0.95" filter="url(#f0_6)"/><ellipse cx="809.5" cy="117.7" rx="1.8" ry="2.6" fill="#e0202a" fill-opacity="0.95" filter="url(#f0_6)"/><ellipse cx="813.1" cy="107" rx="1.8" ry="2.6" fill="#e0202a" fill-opacity="0.95" filter="url(#f0_6)"/><ellipse cx="782.7" cy="96" rx="1.8" ry="2.6" fill="#e0202a" fill-opacity="0.95" filter="url(#f0_6)"/><ellipse cx="817.7" cy="122.3" rx="1.8" ry="2.6" fill="#e0202a" fill-opacity="0.95" filter="url(#f0_6)"/><ellipse cx="802.1" cy="86.5" rx="1.8" ry="2.6" fill="#e0202a" fill-opacity="0.95" filter="url(#f0_6)"/><ellipse cx="773.1" cy="110" rx="1.8" ry="2.6" fill="#e0202a" fill-opacity="0.95" filter="url(#f0_6)"/><ellipse cx="796.1" cy="117" rx="1.8" ry="2.6" fill="#e0202a" fill-opacity="0.95" filter="url(#f0_6)"/><ellipse cx="775.7" cy="107" rx="1.3" ry="2.2" fill="#ffe45a" fill-opacity="0.95" filter="url(#f0_6)"/><ellipse cx="800.5" cy="119.5" rx="1.3" ry="2.2" fill="#ffe45a" fill-opacity="0.95" filter="url(#f0_6)"/><ellipse cx="809.5" cy="117.7" rx="1.3" ry="2.2" fill="#ffe45a" fill-opacity="0.95" filter="url(#f0_6)"/></g><g><line x1="691.4" y1="134" x2="691.4" y2="81.3" stroke="#262626" stroke-width="1.3"/><line x1="691.4" y1="134" x2="885" y2="183.9" stroke="#262626" stroke-width="1.3"/><line x1="885" y1="183.9" x2="904.6" y2="113.9" stroke="#262626" stroke-width="1.3"/><line x1="691.4" y1="134" x2="686.56" y2="132.75" stroke="#262626" stroke-width="1.3"/><line x1="691.4" y1="107.65" x2="686.56" y2="106.4" stroke="#262626" stroke-width="1.3"/><line x1="691.4" y1="81.3" x2="686.56" y2="80.05" stroke="#262626" stroke-width="1.3"/><line x1="691.4" y1="134" x2="690.05" y2="138.81" stroke="#262626" stroke-width="1.3"/><line x1="739.8" y1="146.47" x2="738.45" y2="151.29" stroke="#262626" stroke-width="1.3"/><line x1="788.2" y1="158.95" x2="786.85" y2="163.76" stroke="#262626" stroke-width="1.3"/><line x1="836.6" y1="171.43" x2="835.25" y2="176.24" stroke="#262626" stroke-width="1.3"/><line x1="885" y1="183.9" x2="883.65" y2="188.71" stroke="#262626" stroke-width="1.3"/><line x1="885" y1="183.9" x2="889.84" y2="185.15" stroke="#262626" stroke-width="1.3"/><line x1="891.53" y1="160.57" x2="896.38" y2="161.81" stroke="#262626" stroke-width="1.3"/><line x1="898.07" y1="137.23" x2="902.91" y2="138.48" stroke="#262626" stroke-width="1.3"/><line x1="904.6" y1="113.9" x2="909.44" y2="115.15" stroke="#262626" stroke-width="1.3"/></g><g fill="#262626"><text x="681.3" y="80.3" font-size="15.5" text-anchor="end" dominant-baseline="central">20</text><text x="681.3" y="106.65" font-size="15.5" text-anchor="end" dominant-baseline="central">0</text><text x="681.3" y="133" font-size="15.5" text-anchor="end" dominant-baseline="central">-20</text><text x="688.7" y="152.5" font-size="15.5" text-anchor="middle" dominant-baseline="central">-20</text><text x="737.1" y="164.97" font-size="15.5" text-anchor="middle" dominant-baseline="central">-10</text><text x="785.5" y="177.45" font-size="15.5" text-anchor="middle" dominant-baseline="central">0</text><text x="833.9" y="189.93" font-size="15.5" text-anchor="middle" dominant-baseline="central">10</text><text x="882.3" y="202.4" font-size="15.5" text-anchor="middle" dominant-baseline="central">20</text><text x="901.8" y="195.3" font-size="15.5" text-anchor="middle" dominant-baseline="central">45</text><text x="908.33" y="171.97" font-size="15.5" text-anchor="middle" dominant-baseline="central">50</text><text x="914.87" y="148.63" font-size="15.5" text-anchor="middle" dominant-baseline="central">55</text><text x="921.4" y="125.3" font-size="15.5" text-anchor="middle" dominant-baseline="central">60</text><text x="780.6" y="203.2" font-size="15.5" text-anchor="middle" dominant-baseline="central">X/m</text><text x="941.1" y="198.2" font-size="15.5" text-anchor="middle" dominant-baseline="central">Y/m</text><text x="0" y="0" font-size="15.5" text-anchor="middle" dominant-baseline="central" transform="translate(651.3,107.9) rotate(-90)">Z/m</text></g><g stroke-linecap="square"><line x1="713.42" y1="456.13" x2="713.42" y2="262.23" stroke="#000" stroke-width="1.5" stroke-opacity="0.15"/><line x1="816.32" y1="523.73" x2="713.42" y2="456.13" stroke="#000" stroke-width="1.5" stroke-opacity="0.15"/><line x1="765.52" y1="436.28" x2="765.52" y2="242.38" stroke="#000" stroke-width="1.5" stroke-opacity="0.15"/><line x1="868.41" y1="503.88" x2="765.52" y2="436.28" stroke="#000" stroke-width="1.5" stroke-opacity="0.15"/><line x1="817.62" y1="416.43" x2="817.62" y2="222.53" stroke="#000" stroke-width="1.5" stroke-opacity="0.15"/><line x1="920.52" y1="484.03" x2="817.62" y2="416.43" stroke="#000" stroke-width="1.5" stroke-opacity="0.15"/><line x1="930.93" y1="480.06" x2="930.93" y2="286.16" stroke="#000" stroke-width="1.5" stroke-opacity="0.15"/><line x1="805.89" y1="527.7" x2="930.93" y2="480.06" stroke="#000" stroke-width="1.5" stroke-opacity="0.15"/><line x1="891.36" y1="454.06" x2="891.36" y2="260.16" stroke="#000" stroke-width="1.5" stroke-opacity="0.15"/><line x1="766.32" y1="501.7" x2="891.36" y2="454.06" stroke="#000" stroke-width="1.5" stroke-opacity="0.15"/><line x1="851.78" y1="428.06" x2="851.78" y2="234.16" stroke="#000" stroke-width="1.5" stroke-opacity="0.15"/><line x1="726.75" y1="475.7" x2="851.78" y2="428.06" stroke="#000" stroke-width="1.5" stroke-opacity="0.15"/><line x1="703" y1="437.29" x2="828.04" y2="389.65" stroke="#000" stroke-width="1.5" stroke-opacity="0.15"/><line x1="930.93" y1="457.25" x2="828.04" y2="389.65" stroke="#000" stroke-width="1.5" stroke-opacity="0.15"/><line x1="703" y1="380.26" x2="828.04" y2="332.62" stroke="#000" stroke-width="1.5" stroke-opacity="0.15"/><line x1="930.93" y1="400.22" x2="828.04" y2="332.62" stroke="#000" stroke-width="1.5" stroke-opacity="0.15"/><line x1="703" y1="323.23" x2="828.04" y2="275.59" stroke="#000" stroke-width="1.5" stroke-opacity="0.15"/><line x1="930.93" y1="343.19" x2="828.04" y2="275.59" stroke="#000" stroke-width="1.5" stroke-opacity="0.15"/><line x1="703" y1="266.2" x2="828.04" y2="218.56" stroke="#000" stroke-width="1.5" stroke-opacity="0.15"/><line x1="930.93" y1="286.16" x2="828.04" y2="218.56" stroke="#000" stroke-width="1.5" stroke-opacity="0.15"/></g><path d="M808.6 455.7l5.0 2.8M821.1 389.6l9.8 5.4M797.3 303.7l5.9 3.3M844.0 459.5l7.7 4.3M876.7 410.3l12.2 6.7M761.3 377.5l4.5 2.5M748.9 312.1l10.9 6.0M811.0 264.7l12.1 6.7M778.4 466.2l11.8 6.5M795.3 305.5l9.8 5.4M760.1 321.0l14.2 7.9M728.6 371.5l7.2 4.0M868.4 286.2l14.6 8.1M861.7 439.9l5.5 3.1M868.9 429.2l12.3 6.8M737.4 339.3l14.8 8.2M808.3 318.5l15.4 8.6M822.1 281.2l5.1 2.8M823.0 323.0l15.4 8.6M818.9 449.6l15.3 8.5M821.5 375.2l12.8 7.1M839.1 353.6l11.2 6.2M846.3 360.7l13.6 7.5M895.5 393.4l8.5 4.7M756.0 438.2l11.2 6.2M883.1 375.7l4.8 2.6M834.1 429.2l8.8 4.9M833.4 243.8l13.5 7.5M756.8 279.5l10.3 5.7M773.7 329.2l6.2 3.4M865.6 327.0l12.6 7.0M824.5 335.0l8.2 4.5M820.3 369.5l12.1 6.7M865.9 282.0l8.8 4.9M854.8 386.3l8.0 4.4M878.3 286.5l14.4 8.0M785.9 325.8l14.0 7.8M765.1 347.2l13.2 7.3M866.0 348.5l10.8 6.0M867.3 457.8l13.1 7.2M798.2 441.0l10.0 5.5M840.7 420.5l12.8 7.1M883.9 302.8l8.9 4.9M791.0 465.3l15.4 8.5M771.1 330.8l7.3 4.1M856.6 360.2l9.3 5.2M824.6 390.9l14.4 8.0M818.9 395.4l11.2 6.2M774.8 359.8l8.5 4.7M844.0 318.4l8.7 4.8M890.6 274.2l14.3 7.9M853.6 266.7l13.6 7.5M850.2 315.7l12.8 7.1M847.5 401.2l11.0 6.1M903.2 348.9l12.3 6.8M860.5 339.5l8.3 4.6M843.1 389.0l9.1 5.0M791.1 430.5l15.1 8.4M818.2 414.8l8.7 4.8M867.3 347.0l5.3 2.9M877.9 376.2l13.4 7.4M859.7 379.6l7.8 4.3M761.6 352.4l6.3 3.5M784.3 399.5l9.4 5.2M821.4 366.5l4.7 2.6M845.4 258.8l13.3 7.4M801.7 368.3l8.7 4.8M806.4 245.6l5.3 2.9M764.0 473.9l12.2 6.8M832.9 380.5l15.0 8.3M873.9 351.6l13.8 7.6" stroke="#9a9aa4" stroke-opacity="0.12" stroke-width="1" fill="none"/><path d="M797.0 279.8l6.5 3.6M830.3 341.7l14.5 8.0M828.9 273.1l10.4 5.8M786.5 358.8l6.9 3.8M839.1 476.0l6.1 3.4M812.6 410.3l12.8 7.1M798.8 354.5l6.7 3.7M862.9 463.8l6.3 3.5M804.4 358.6l11.6 6.4M787.9 406.8l8.5 4.7M786.2 443.8l5.6 3.1M794.1 334.9l11.2 6.2M824.3 299.6l15.5 8.6M831.3 475.3l10.3 5.7M777.9 276.2l15.3 8.5M841.7 378.3l8.1 4.5M804.3 320.1l6.6 3.6M862.9 348.8l10.6 5.9M771.6 450.8l14.7 8.2M787.2 430.7l14.5 8.0M796.9 393.7l8.6 4.8M763.2 457.3l9.9 5.5M796.0 324.3l7.1 4.0M802.0 335.5l8.9 4.9M782.6 411.8l14.1 7.8M820.8 246.9l14.8 8.2M852.9 447.6l14.9 8.2M840.1 356.0l15.0 8.3M825.0 428.5l14.9 8.3M810.7 334.5l9.1 5.0M810.5 446.5l13.0 7.2M798.0 299.5l11.7 6.5M795.6 245.9l7.2 4.0M851.6 348.6l12.5 6.9M868.4 344.1l7.9 4.4M799.2 409.3l10.5 5.8M832.1 381.1l15.5 8.6M834.6 350.0l10.8 6.0M825.8 365.3l15.7 8.7M810.0 419.4l10.9 6.0M793.7 456.4l12.7 7.1M831.2 377.6l5.7 3.1M776.8 311.5l4.4 2.5M820.3 423.7l8.8 4.9M805.2 379.9l10.8 6.0M783.6 250.9l9.3 5.2M769.4 447.7l5.3 3.0M829.6 277.9l12.7 7.1M910.5 470.0l7.6 4.2M805.1 241.6l11.5 6.4M787.9 427.1l7.0 3.9M821.2 470.8l10.1 5.6M806.2 472.8l14.4 8.0M808.4 371.9l13.1 7.3" stroke="#9a9aa4" stroke-opacity="0.23" stroke-width="1" fill="none"/><path d="M761.0 446.1l12.5 6.9M798.6 416.0l11.0 6.1M836.6 371.7l6.9 3.8M827.2 445.2l12.2 6.8M837.5 281.7l9.5 5.2M851.1 324.7l11.2 6.2M772.0 320.3l7.9 4.4M824.0 271.0l5.9 3.3M780.1 444.0l13.0 7.2M871.6 266.1l5.1 2.8M801.6 420.9l10.1 5.6M846.3 389.6l5.3 3.0M829.3 482.5l6.9 3.8M796.5 386.9l14.7 8.2M776.7 349.6l4.5 2.5M848.9 484.2l14.9 8.3M739.5 286.8l15.5 8.6M856.8 415.0l11.7 6.5M862.1 279.2l7.2 4.0M748.1 452.9l4.6 2.6M769.6 285.5l8.1 4.5M716.9 427.4l11.0 6.1M771.7 415.2l8.8 4.9M795.3 314.7l12.7 7.0M888.4 421.1l5.8 3.2M787.0 357.0l11.6 6.4M767.0 395.9l9.7 5.3M832.6 341.0l14.8 8.2M743.9 410.4l14.3 7.9M863.3 417.0l10.8 6.0M811.2 366.7l10.8 6.0M884.8 433.2l15.7 8.7M757.3 340.7l7.7 4.3M762.4 332.5l11.6 6.4" stroke="#9a9aa4" stroke-opacity="0.35" stroke-width="1" fill="none"/><g transform="rotate(33 815.1 400)"><g filter="url(#txd)"><g transform="rotate(-33 815.1 400)"><ellipse cx="720.1" cy="300" rx="6" ry="3" transform="rotate(30 720.1 300)" fill="#504a72" fill-opacity="0.3" filter="url(#f1_5)"/><ellipse cx="717.1" cy="345" rx="6" ry="4" transform="rotate(30 717.1 345)" fill="#504a72" fill-opacity="0.25" filter="url(#f1_5)"/><ellipse cx="731.1" cy="268" rx="6" ry="3" transform="rotate(30 731.1 268)" fill="#504a72" fill-opacity="0.3" filter="url(#f1_5)"/><ellipse cx="777.1" cy="301" rx="8" ry="3" transform="rotate(30 777.1 301)" fill="#504a72" fill-opacity="0.25" filter="url(#f1_5)"/><ellipse cx="785.1" cy="360" rx="12" ry="5" transform="rotate(30 785.1 360)" fill="#504a72" fill-opacity="0.25" filter="url(#f2_0)"/><ellipse cx="800.1" cy="375" rx="10" ry="5" transform="rotate(30 800.1 375)" fill="#504a72" fill-opacity="0.25" filter="url(#f2_0)"/><ellipse cx="824.1" cy="329" rx="24" ry="10" transform="rotate(30 824.1 329)" fill="#3a2090" fill-opacity="0.35" filter="url(#f3_0)"/><ellipse cx="827.1" cy="480" rx="28" ry="28" fill="#504a72" fill-opacity="0.28" filter="url(#f6_0)"/><ellipse cx="815.1" cy="440" rx="20" ry="15" fill="#504a72" fill-opacity="0.2" filter="url(#f5_0)"/><ellipse cx="897.1" cy="414" rx="38" ry="12" transform="rotate(-10 897.1 414)" fill="#504a72" fill-opacity="0.22" filter="url(#f6_0)"/><ellipse cx="893.1" cy="474" rx="25" ry="8" transform="rotate(-20 893.1 474)" fill="#504a72" fill-opacity="0.3" filter="url(#f4_0)"/></g></g></g><g><ellipse cx="824.1" cy="328.5" rx="18" ry="6.5" transform="rotate(30 824.1 328.5)" fill="#2a1288" fill-opacity="0.85" filter="url(#f2_0)"/><ellipse cx="857.1" cy="389.5" rx="14" ry="6" transform="rotate(33 857.1 389.5)" fill="#2a1288" fill-opacity="0.85" filter="url(#f2_0)"/><rect x="836.6" y="443.5" width="94" height="28" rx="9" transform="rotate(-16 883.6 457.5)" fill="#2a1288" fill-opacity="0.88" filter="url(#f2_5)"/><ellipse cx="826.1" cy="330" rx="9" ry="3.5" transform="rotate(30 826.1 330)" fill="#e0202a" fill-opacity="0.9" filter="url(#f1_0)"/><ellipse cx="823.1" cy="328" rx="4" ry="2.2" transform="rotate(30 823.1 328)" fill="#f2641e" fill-opacity="0.85" filter="url(#f0_8)"/><ellipse cx="856.1" cy="389" rx="5" ry="2.2" transform="rotate(33 856.1 389)" fill="#e0202a" fill-opacity="0.85" filter="url(#f0_8)"/><ellipse cx="861.1" cy="465.5" rx="21" ry="8.5" transform="rotate(-26 861.1 465.5)" fill="#e0202a" fill-opacity="0.95" filter="url(#f2_0)"/><ellipse cx="892.1" cy="451" rx="10" ry="7.5" transform="rotate(-12 892.1 451)" fill="#e0202a" fill-opacity="0.95" filter="url(#f2_0)"/><ellipse cx="916.1" cy="441" rx="11" ry="7.5" transform="rotate(-22 916.1 441)" fill="#e0202a" fill-opacity="0.95" filter="url(#f2_0)"/><ellipse cx="893.1" cy="469" rx="7" ry="3" transform="rotate(-20 893.1 469)" fill="#e0202a" fill-opacity="0.6" filter="url(#f1_5)"/><ellipse cx="858.1" cy="466" rx="12" ry="4.5" transform="rotate(-28 858.1 466)" fill="#f2641e" fill-opacity="0.85" filter="url(#f1_5)"/><ellipse cx="892.1" cy="451" rx="5" ry="3.5" transform="rotate(-12 892.1 451)" fill="#f2641e" fill-opacity="0.8" filter="url(#f1_2)"/><ellipse cx="916.1" cy="441" rx="5" ry="3.5" transform="rotate(-22 916.1 441)" fill="#f2641e" fill-opacity="0.8" filter="url(#f1_2)"/><ellipse cx="857.8" cy="466.2" rx="5" ry="2.5" transform="rotate(-28 857.8 466.2)" fill="#ffe45a" fill-opacity="0.95" filter="url(#f1_0)"/><ellipse cx="893.5" cy="450.8" rx="3" ry="2.2" fill="#ffe45a" fill-opacity="0.9" filter="url(#f1_0)"/><ellipse cx="917.3" cy="439.8" rx="3" ry="2" fill="#ffe45a" fill-opacity="0.9" filter="url(#f1_0)"/></g><g stroke-linecap="square"><line x1="703" y1="460.1" x2="703" y2="266.2" stroke="#262626" stroke-width="1.6"/><line x1="703" y1="460.1" x2="805.89" y2="527.7" stroke="#262626" stroke-width="1.6"/><line x1="805.89" y1="527.7" x2="930.93" y2="480.06" stroke="#262626" stroke-width="1.6"/><line x1="703" y1="437.29" x2="698.4" y2="434.27" stroke="#262626" stroke-width="1.6"/><line x1="703" y1="380.26" x2="698.4" y2="377.24" stroke="#262626" stroke-width="1.6"/><line x1="703" y1="323.23" x2="698.4" y2="320.21" stroke="#262626" stroke-width="1.6"/><line x1="703" y1="266.2" x2="698.4" y2="263.18" stroke="#262626" stroke-width="1.6"/><line x1="805.89" y1="527.7" x2="800.76" y2="529.66" stroke="#262626" stroke-width="1.6"/><line x1="766.32" y1="501.7" x2="761.18" y2="503.66" stroke="#262626" stroke-width="1.6"/><line x1="726.75" y1="475.7" x2="721.61" y2="477.66" stroke="#262626" stroke-width="1.6"/><line x1="816.32" y1="523.73" x2="820.91" y2="526.75" stroke="#262626" stroke-width="1.6"/><line x1="868.41" y1="503.88" x2="873.01" y2="506.9" stroke="#262626" stroke-width="1.6"/><line x1="920.52" y1="484.03" x2="925.11" y2="487.05" stroke="#262626" stroke-width="1.6"/></g><g fill="#262626"><text x="692.7" y="261.2" font-size="19" text-anchor="end" dominant-baseline="central">2</text><text x="692.7" y="318.23" font-size="19" text-anchor="end" dominant-baseline="central">1.5</text><text x="692.7" y="375.26" font-size="19" text-anchor="end" dominant-baseline="central">1</text><text x="692.7" y="432.29" font-size="19" text-anchor="end" dominant-baseline="central">0.5</text><text x="715.75" y="491.7" font-size="19" text-anchor="end" dominant-baseline="central">5.5</text><text x="755.32" y="517.7" font-size="19" text-anchor="end" dominant-baseline="central">5</text><text x="794.89" y="543.7" font-size="19" text-anchor="end" dominant-baseline="central">4.5</text><text x="826.62" y="541.63" font-size="19" text-anchor="start" dominant-baseline="central">-0.5</text><text x="878.71" y="521.78" font-size="19" text-anchor="start" dominant-baseline="central">0</text><text x="930.82" y="501.93" font-size="19" text-anchor="start" dominant-baseline="central">0.5</text><text x="711.5" y="550.6" font-size="19" text-anchor="middle" dominant-baseline="central">Y/m</text><text x="913.4" y="554.5" font-size="19" text-anchor="middle" dominant-baseline="central">X/m</text><text x="0" y="0" font-size="19" text-anchor="middle" dominant-baseline="central" transform="translate(654.5,363) rotate(-90)">Z/m</text></g><g stroke-linecap="square"><line x1="1032.7" y1="64" x2="1032.7" y2="11.3" stroke="#000" stroke-width="1.5" stroke-opacity="0.15"/><line x1="1013.1" y1="134" x2="1032.7" y2="64" stroke="#000" stroke-width="1.5" stroke-opacity="0.15"/><line x1="1081.1" y1="76.47" x2="1081.1" y2="23.77" stroke="#000" stroke-width="1.5" stroke-opacity="0.15"/><line x1="1061.5" y1="146.47" x2="1081.1" y2="76.47" stroke="#000" stroke-width="1.5" stroke-opacity="0.15"/><line x1="1129.5" y1="88.95" x2="1129.5" y2="36.25" stroke="#000" stroke-width="1.5" stroke-opacity="0.15"/><line x1="1109.9" y1="158.95" x2="1129.5" y2="88.95" stroke="#000" stroke-width="1.5" stroke-opacity="0.15"/><line x1="1177.9" y1="101.43" x2="1177.9" y2="48.73" stroke="#000" stroke-width="1.5" stroke-opacity="0.15"/><line x1="1158.3" y1="171.43" x2="1177.9" y2="101.43" stroke="#000" stroke-width="1.5" stroke-opacity="0.15"/><line x1="1226.3" y1="113.9" x2="1226.3" y2="61.2" stroke="#000" stroke-width="1.5" stroke-opacity="0.15"/><line x1="1206.7" y1="183.9" x2="1226.3" y2="113.9" stroke="#000" stroke-width="1.5" stroke-opacity="0.15"/><line x1="1032.7" y1="64" x2="1226.3" y2="113.9" stroke="#000" stroke-width="1.5" stroke-opacity="0.15"/><line x1="1013.1" y1="134" x2="1032.7" y2="64" stroke="#000" stroke-width="1.5" stroke-opacity="0.15"/><line x1="1032.7" y1="37.65" x2="1226.3" y2="87.55" stroke="#000" stroke-width="1.5" stroke-opacity="0.15"/><line x1="1013.1" y1="107.65" x2="1032.7" y2="37.65" stroke="#000" stroke-width="1.5" stroke-opacity="0.15"/><line x1="1032.7" y1="11.3" x2="1226.3" y2="61.2" stroke="#000" stroke-width="1.5" stroke-opacity="0.15"/><line x1="1013.1" y1="81.3" x2="1032.7" y2="11.3" stroke="#000" stroke-width="1.5" stroke-opacity="0.15"/><line x1="1013.1" y1="134" x2="1013.1" y2="81.3" stroke="#000" stroke-width="1.5" stroke-opacity="0.15"/><line x1="1013.1" y1="134" x2="1206.7" y2="183.9" stroke="#000" stroke-width="1.5" stroke-opacity="0.15"/><line x1="1019.63" y1="110.67" x2="1019.63" y2="57.97" stroke="#000" stroke-width="1.5" stroke-opacity="0.15"/><line x1="1019.63" y1="110.67" x2="1213.23" y2="160.57" stroke="#000" stroke-width="1.5" stroke-opacity="0.15"/><line x1="1026.17" y1="87.33" x2="1026.17" y2="34.63" stroke="#000" stroke-width="1.5" stroke-opacity="0.15"/><line x1="1026.17" y1="87.33" x2="1219.77" y2="137.23" stroke="#000" stroke-width="1.5" stroke-opacity="0.15"/><line x1="1032.7" y1="64" x2="1032.7" y2="11.3" stroke="#000" stroke-width="1.5" stroke-opacity="0.15"/><line x1="1032.7" y1="64" x2="1226.3" y2="113.9" stroke="#000" stroke-width="1.5" stroke-opacity="0.15"/></g><path d="M1205.2 130.3h2.5v2.6h-2.5zM1127.9 84.7h2.2v4.9h-2.2zM1203.4 91.6h2.5v3.4h-2.5zM1091.8 132.4h2.2v3.1h-2.2zM1152.9 117.8h2.3v3.6h-2.3zM1132.2 108.9h2.8v4.2h-2.8zM1150.6 110.7h2.1v4.7h-2.1zM1210.4 125.5h1.6v4.3h-1.6zM1082.6 83.1h2.3v3.0h-2.3zM1193.5 122.4h2.1v3.2h-2.1zM1116.6 83.0h2.9v3.1h-2.9zM1075.0 103.4h1.6v4.0h-1.6zM1117.2 108.7h2.3v4.4h-2.3zM1128.2 93.5h1.6v3.8h-1.6zM1059.2 81.5h2.1v4.5h-2.1zM1135.4 112.3h2.5v4.5h-2.5zM1087.8 83.9h1.7v3.7h-1.7zM1195.1 125.6h1.7v2.7h-1.7zM1110.8 117.9h2.9v2.6h-2.9zM1084.5 111.8h2.2v3.7h-2.2zM1106.7 107.8h2.6v2.6h-2.6zM1073.0 69.7h2.0v4.9h-2.0zM1116.5 99.8h2.2v2.7h-2.2zM1109.0 109.9h1.9v4.1h-1.9zM1155.9 106.3h2.7v4.3h-2.7zM1153.7 114.6h1.9v3.8h-1.9zM1156.6 122.7h2.2v2.5h-2.2zM1131.4 122.5h2.4v4.2h-2.4zM1129.2 104.4h2.1v2.6h-2.1zM1049.2 90.3h2.3v4.0h-2.3zM1157.1 115.0h2.0v3.2h-2.0zM1096.2 83.1h1.5v3.7h-1.5zM1056.2 92.8h1.8v3.2h-1.8zM1170.8 130.0h2.6v2.9h-2.6zM1161.3 97.0h2.4v4.1h-2.4zM1198.4 139.3h2.7v2.7h-2.7zM1174.7 132.6h1.8v4.7h-1.8zM1135.3 92.4h2.9v3.8h-2.9zM1149.8 114.4h2.3v3.7h-2.3zM1169.6 138.6h1.8v4.5h-1.8zM1064.6 64.1h2.1v2.9h-2.1zM1173.5 108.1h1.7v3.5h-1.7zM1092.1 87.4h2.1v3.5h-2.1zM1149.3 129.5h1.6v3.6h-1.6zM1140.5 98.3h2.5v4.2h-2.5zM1211.9 125.6h2.5v3.0h-2.5zM1058.5 86.1h2.2v3.3h-2.2zM1097.8 124.0h2.6v3.2h-2.6zM1182.9 110.6h2.2v3.6h-2.2zM1114.9 100.1h2.9v2.8h-2.9zM1193.6 140.3h2.8v4.7h-2.8zM1146.2 93.6h1.7v3.0h-1.7zM1221.8 118.6h2.2v4.9h-2.2zM1124.3 102.0h1.6v4.5h-1.6zM1108.9 79.1h2.0v3.0h-2.0zM1081.3 103.0h2.8v4.2h-2.8zM1157.9 117.8h2.5v3.8h-2.5zM1146.0 142.0h1.6v2.9h-1.6zM1109.6 113.5h2.1v3.5h-2.1zM1174.7 121.9h2.1v4.4h-2.1zM1143.7 110.3h1.7v2.7h-1.7zM1146.3 100.5h2.6v3.4h-2.6zM1177.2 127.0h1.9v5.0h-1.9zM1130.3 115.5h2.9v4.8h-2.9zM1152.3 122.6h1.5v3.9h-1.5zM1057.8 92.5h2.3v4.5h-2.3zM1104.2 111.1h2.8v2.8h-2.8zM1137.3 119.5h2.7v3.7h-2.7zM1141.7 95.1h2.0v3.8h-2.0zM1191.4 138.3h2.7v4.8h-2.7zM1120.2 123.0h1.6v2.8h-1.6zM1113.6 111.3h1.6v4.2h-1.6zM1159.7 123.7h2.2v3.4h-2.2zM1176.8 132.3h2.0v3.5h-2.0zM1112.5 103.9h1.8v2.6h-1.8zM1144.2 125.0h2.7v4.0h-2.7zM1144.6 113.3h2.2v4.6h-2.2zM1076.6 96.7h1.6v4.3h-1.6zM1160.0 115.9h2.0v2.9h-2.0zM1150.1 96.8h2.1v2.8h-2.1zM1178.5 106.1h2.3v4.0h-2.3zM1186.9 112.8h2.7v3.8h-2.7zM1180.0 97.1h2.5v3.4h-2.5zM1155.2 139.6h1.9v3.2h-1.9zM1109.3 100.8h2.6v4.6h-2.6zM1116.5 117.1h2.5v4.8h-2.5zM1170.1 95.3h2.7v4.9h-2.7zM1210.3 111.6h2.8v4.2h-2.8zM1105.3 82.7h2.2v4.3h-2.2zM1124.7 101.5h1.6v4.9h-1.6zM1170.5 98.3h1.8v3.7h-1.8zM1153.1 117.2h2.8v3.2h-2.8zM1090.3 104.0h1.9v4.0h-1.9zM1169.4 110.4h2.4v3.7h-2.4zM1188.6 119.6h2.7v4.8h-2.7zM1170.5 99.7h2.3v2.7h-2.3zM1060.5 85.1h2.3v2.9h-2.3zM1127.6 79.7h2.4v4.0h-2.4zM1206.4 140.0h2.5v3.3h-2.5zM1126.8 107.4h2.8v4.4h-2.8zM1186.6 107.2h1.9v3.1h-1.9zM1133.0 136.0h2.6v5.0h-2.6zM1149.5 100.3h1.6v3.8h-1.6zM1080.9 80.7h2.3v4.6h-2.3zM1092.5 108.1h2.8v3.7h-2.8z" fill="#5a5080" fill-opacity="0.12" filter="url(#f0_8)"/><path d="M1142.7 121.9h1.8v3.3h-1.8zM1083.9 86.3h2.8v3.6h-2.8zM1099.1 99.9h2.0v3.7h-2.0zM1099.8 70.5h2.8v3.2h-2.8zM1109.7 85.5h2.6v3.2h-2.6zM1038.4 98.3h2.3v4.8h-2.3zM1046.6 75.4h2.9v3.0h-2.9zM1153.9 123.8h1.9v4.9h-1.9zM1096.6 119.7h2.4v4.4h-2.4zM1141.7 128.8h2.5v2.7h-2.5zM1182.8 128.3h2.5v4.4h-2.5zM1143.8 120.7h1.9v3.8h-1.9zM1103.5 131.8h2.9v4.7h-2.9zM1120.3 95.2h1.7v4.9h-1.7zM1098.7 105.7h2.9v4.3h-2.9zM1154.9 105.7h2.3v3.0h-2.3zM1155.1 92.0h2.4v2.8h-2.4zM1083.1 108.5h2.6v4.3h-2.6zM1186.3 119.1h1.6v4.9h-1.6zM1154.4 103.0h2.1v4.5h-2.1zM1159.6 111.1h1.7v3.9h-1.7zM1137.7 115.9h1.9v4.4h-1.9zM1161.9 112.7h2.7v3.9h-2.7zM1055.8 57.9h1.6v4.4h-1.6zM1040.8 75.9h2.3v5.0h-2.3zM1075.9 119.8h1.5v4.6h-1.5zM1123.0 115.9h2.9v4.3h-2.9zM1116.2 97.3h2.3v2.5h-2.3zM1174.3 97.1h2.3v4.4h-2.3zM1137.0 118.3h2.5v3.8h-2.5zM1074.6 90.6h2.9v3.7h-2.9zM1129.8 126.8h2.4v4.7h-2.4zM1136.3 124.1h2.8v3.9h-2.8zM1101.4 84.7h2.8v4.2h-2.8zM1157.1 117.8h2.2v2.8h-2.2zM1118.1 102.7h2.9v3.3h-2.9zM1168.4 119.0h2.2v4.0h-2.2zM1126.0 96.7h2.1v3.4h-2.1zM1154.6 117.0h2.3v4.8h-2.3zM1096.4 98.8h2.4v5.0h-2.4zM1110.2 100.3h2.3v3.5h-2.3zM1121.8 111.5h2.1v4.9h-2.1zM1143.3 122.4h2.5v3.8h-2.5zM1097.9 89.6h2.9v4.2h-2.9zM1107.0 102.1h2.3v3.2h-2.3zM1112.3 148.2h2.9v3.6h-2.9zM1144.2 118.5h2.3v4.4h-2.3zM1114.2 100.5h3.0v3.9h-3.0zM1087.4 79.3h2.7v2.9h-2.7zM1043.4 84.1h1.9v3.9h-1.9zM1194.2 126.0h2.2v3.8h-2.2zM1115.6 118.0h1.6v3.6h-1.6zM1160.4 94.3h2.8v3.8h-2.8zM1116.4 120.0h1.6v3.0h-1.6zM1081.1 110.6h1.7v4.2h-1.7zM1114.0 109.3h1.8v3.1h-1.8zM1067.2 120.8h2.1v2.9h-2.1zM1132.3 109.4h2.7v3.0h-2.7z" fill="#5a5080" fill-opacity="0.22" filter="url(#f0_8)"/><g filter="url(#txv)"><ellipse cx="1128.8" cy="110" rx="88" ry="24" transform="rotate(15 1128.8 110)" fill="#504a72" fill-opacity="0.22" filter="url(#f6_0)"/><ellipse cx="1056.8" cy="80" rx="16" ry="12" transform="rotate(10 1056.8 80)" fill="#504a72" fill-opacity="0.3" filter="url(#f4_0)"/><ellipse cx="1045.2" cy="74.3" rx="3" ry="6" fill="#504a72" fill-opacity="0.24" filter="url(#f2_0)"/><ellipse cx="1054.8" cy="77" rx="3" ry="7" fill="#504a72" fill-opacity="0.28" filter="url(#f2_0)"/><ellipse cx="1064.8" cy="82" rx="4" ry="9" fill="#504a72" fill-opacity="0.45" filter="url(#f2_0)"/><ellipse cx="1074.8" cy="83" rx="4" ry="8" fill="#504a72" fill-opacity="0.4" filter="url(#f2_0)"/><ellipse cx="1071.1" cy="101.5" rx="4" ry="8" fill="#504a72" fill-opacity="0.4" filter="url(#f2_0)"/><ellipse cx="1061.8" cy="104" rx="3" ry="6" fill="#504a72" fill-opacity="0.3" filter="url(#f2_0)"/><ellipse cx="1082.8" cy="90" rx="6" ry="10" fill="#3a2090" fill-opacity="0.5" filter="url(#f3_0)"/><ellipse cx="1131.8" cy="114" rx="48" ry="13" transform="rotate(16 1131.8 114)" fill="#3a2090" fill-opacity="0.16" filter="url(#f5_0)"/><ellipse cx="1104.8" cy="107" rx="19" ry="22" transform="rotate(5 1104.8 107)" fill="#3a2090" fill-opacity="0.9" filter="url(#f4_0)"/><ellipse cx="1097.8" cy="105" rx="10" ry="16" fill="#22125a" fill-opacity="0.65" filter="url(#f4_0)"/><ellipse cx="1102.8" cy="110" rx="18" ry="20" fill="#241c3a" fill-opacity="0.3" filter="url(#f5_0)"/><ellipse cx="1122.8" cy="112" rx="10" ry="16" fill="#3a2090" fill-opacity="0.6" filter="url(#f3_0)"/><ellipse cx="1140.3" cy="121" rx="5" ry="7" fill="#3a2090" fill-opacity="0.5" filter="url(#f2_0)"/><ellipse cx="1150.8" cy="104.7" rx="5" ry="8" fill="#3a2090" fill-opacity="0.55" filter="url(#f2_0)"/><ellipse cx="1151.8" cy="122" rx="6" ry="8" fill="#3a2090" fill-opacity="0.55" filter="url(#f2_0)"/><ellipse cx="1166.8" cy="110" rx="12" ry="15" fill="#504a72" fill-opacity="0.45" filter="url(#f3_0)"/><ellipse cx="1189.6" cy="97.6" rx="4" ry="7" fill="#504a72" fill-opacity="0.35" filter="url(#f2_0)"/><ellipse cx="1175.4" cy="130" rx="4" ry="5" fill="#504a72" fill-opacity="0.35" filter="url(#f2_0)"/><ellipse cx="1202.6" cy="86" rx="3" ry="5" fill="#504a72" fill-opacity="0.25" filter="url(#f2_0)"/><ellipse cx="1124.8" cy="86.6" rx="3" ry="3" fill="#3a2090" fill-opacity="0.6" filter="url(#f1_0)"/></g><g><ellipse cx="1095.7" cy="93.7" rx="1.3" ry="2.2" fill="#e0202a" fill-opacity="0.95" filter="url(#f0_5)"/><ellipse cx="1098.3" cy="98.9" rx="1.3" ry="2.2" fill="#e0202a" fill-opacity="0.95" filter="url(#f0_5)"/><ellipse cx="1090.6" cy="105.4" rx="1.3" ry="2.2" fill="#e0202a" fill-opacity="0.95" filter="url(#f0_5)"/><ellipse cx="1097" cy="108" rx="1.3" ry="2.2" fill="#e0202a" fill-opacity="0.95" filter="url(#f0_5)"/><ellipse cx="1104.2" cy="113.2" rx="1.3" ry="2.2" fill="#e0202a" fill-opacity="0.95" filter="url(#f0_5)"/><ellipse cx="1095.1" cy="119.7" rx="1.3" ry="2.2" fill="#e0202a" fill-opacity="0.95" filter="url(#f0_5)"/><ellipse cx="1123" cy="122.3" rx="1.3" ry="2.2" fill="#e0202a" fill-opacity="0.95" filter="url(#f0_5)"/><ellipse cx="1119.7" cy="102.8" rx="1.3" ry="2.2" fill="#e0202a" fill-opacity="0.95" filter="url(#f0_5)"/><ellipse cx="1131.9" cy="117.7" rx="1.3" ry="2.2" fill="#e0202a" fill-opacity="0.95" filter="url(#f0_5)"/><ellipse cx="1105.5" cy="106" rx="1.2" ry="1.8" fill="#ffe45a" fill-opacity="0.95" filter="url(#f0_6)"/></g><g><line x1="1013.1" y1="134" x2="1013.1" y2="81.3" stroke="#262626" stroke-width="1.3"/><line x1="1013.1" y1="134" x2="1206.7" y2="183.9" stroke="#262626" stroke-width="1.3"/><line x1="1206.7" y1="183.9" x2="1226.3" y2="113.9" stroke="#262626" stroke-width="1.3"/><line x1="1013.1" y1="134" x2="1008.26" y2="132.75" stroke="#262626" stroke-width="1.3"/><line x1="1013.1" y1="107.65" x2="1008.26" y2="106.4" stroke="#262626" stroke-width="1.3"/><line x1="1013.1" y1="81.3" x2="1008.26" y2="80.05" stroke="#262626" stroke-width="1.3"/><line x1="1013.1" y1="134" x2="1011.75" y2="138.81" stroke="#262626" stroke-width="1.3"/><line x1="1061.5" y1="146.47" x2="1060.15" y2="151.29" stroke="#262626" stroke-width="1.3"/><line x1="1109.9" y1="158.95" x2="1108.55" y2="163.76" stroke="#262626" stroke-width="1.3"/><line x1="1158.3" y1="171.43" x2="1156.95" y2="176.24" stroke="#262626" stroke-width="1.3"/><line x1="1206.7" y1="183.9" x2="1205.35" y2="188.71" stroke="#262626" stroke-width="1.3"/><line x1="1206.7" y1="183.9" x2="1211.54" y2="185.15" stroke="#262626" stroke-width="1.3"/><line x1="1213.23" y1="160.57" x2="1218.08" y2="161.81" stroke="#262626" stroke-width="1.3"/><line x1="1219.77" y1="137.23" x2="1224.61" y2="138.48" stroke="#262626" stroke-width="1.3"/><line x1="1226.3" y1="113.9" x2="1231.14" y2="115.15" stroke="#262626" stroke-width="1.3"/></g><g fill="#262626"><text x="1003" y="80.3" font-size="15.5" text-anchor="end" dominant-baseline="central">20</text><text x="1003" y="106.65" font-size="15.5" text-anchor="end" dominant-baseline="central">0</text><text x="1003" y="133" font-size="15.5" text-anchor="end" dominant-baseline="central">-20</text><text x="1010.4" y="152.5" font-size="15.5" text-anchor="middle" dominant-baseline="central">-20</text><text x="1058.8" y="164.97" font-size="15.5" text-anchor="middle" dominant-baseline="central">-10</text><text x="1107.2" y="177.45" font-size="15.5" text-anchor="middle" dominant-baseline="central">0</text><text x="1155.6" y="189.93" font-size="15.5" text-anchor="middle" dominant-baseline="central">10</text><text x="1204" y="202.4" font-size="15.5" text-anchor="middle" dominant-baseline="central">20</text><text x="1223.5" y="195.3" font-size="15.5" text-anchor="middle" dominant-baseline="central">45</text><text x="1230.03" y="171.97" font-size="15.5" text-anchor="middle" dominant-baseline="central">50</text><text x="1236.57" y="148.63" font-size="15.5" text-anchor="middle" dominant-baseline="central">55</text><text x="1243.1" y="125.3" font-size="15.5" text-anchor="middle" dominant-baseline="central">60</text><text x="1102.3" y="203.2" font-size="15.5" text-anchor="middle" dominant-baseline="central">X/m</text><text x="1262.8" y="198.2" font-size="15.5" text-anchor="middle" dominant-baseline="central">Y/m</text><text x="0" y="0" font-size="15.5" text-anchor="middle" dominant-baseline="central" transform="translate(973,107.9) rotate(-90)">Z/m</text></g><g stroke-linecap="square"><line x1="1035.12" y1="456.13" x2="1035.12" y2="262.23" stroke="#000" stroke-width="1.5" stroke-opacity="0.15"/><line x1="1138.01" y1="523.73" x2="1035.12" y2="456.13" stroke="#000" stroke-width="1.5" stroke-opacity="0.15"/><line x1="1087.22" y1="436.28" x2="1087.22" y2="242.38" stroke="#000" stroke-width="1.5" stroke-opacity="0.15"/><line x1="1190.12" y1="503.88" x2="1087.22" y2="436.28" stroke="#000" stroke-width="1.5" stroke-opacity="0.15"/><line x1="1139.32" y1="416.43" x2="1139.32" y2="222.53" stroke="#000" stroke-width="1.5" stroke-opacity="0.15"/><line x1="1242.21" y1="484.03" x2="1139.32" y2="416.43" stroke="#000" stroke-width="1.5" stroke-opacity="0.15"/><line x1="1252.63" y1="480.06" x2="1252.63" y2="286.16" stroke="#000" stroke-width="1.5" stroke-opacity="0.15"/><line x1="1127.6" y1="527.7" x2="1252.63" y2="480.06" stroke="#000" stroke-width="1.5" stroke-opacity="0.15"/><line x1="1213.06" y1="454.06" x2="1213.06" y2="260.16" stroke="#000" stroke-width="1.5" stroke-opacity="0.15"/><line x1="1088.02" y1="501.7" x2="1213.06" y2="454.06" stroke="#000" stroke-width="1.5" stroke-opacity="0.15"/><line x1="1173.48" y1="428.06" x2="1173.48" y2="234.16" stroke="#000" stroke-width="1.5" stroke-opacity="0.15"/><line x1="1048.44" y1="475.7" x2="1173.48" y2="428.06" stroke="#000" stroke-width="1.5" stroke-opacity="0.15"/><line x1="1024.7" y1="437.29" x2="1149.74" y2="389.65" stroke="#000" stroke-width="1.5" stroke-opacity="0.15"/><line x1="1252.63" y1="457.25" x2="1149.74" y2="389.65" stroke="#000" stroke-width="1.5" stroke-opacity="0.15"/><line x1="1024.7" y1="380.26" x2="1149.74" y2="332.62" stroke="#000" stroke-width="1.5" stroke-opacity="0.15"/><line x1="1252.63" y1="400.22" x2="1149.74" y2="332.62" stroke="#000" stroke-width="1.5" stroke-opacity="0.15"/><line x1="1024.7" y1="323.23" x2="1149.74" y2="275.59" stroke="#000" stroke-width="1.5" stroke-opacity="0.15"/><line x1="1252.63" y1="343.19" x2="1149.74" y2="275.59" stroke="#000" stroke-width="1.5" stroke-opacity="0.15"/><line x1="1024.7" y1="266.2" x2="1149.74" y2="218.56" stroke="#000" stroke-width="1.5" stroke-opacity="0.15"/><line x1="1252.63" y1="286.16" x2="1149.74" y2="218.56" stroke="#000" stroke-width="1.5" stroke-opacity="0.15"/></g><path d="M1203.1 310.8l12.7 7.1M1149.1 403.3l5.3 2.9M1100.4 425.6l15.3 8.5M1047.1 444.0l10.2 5.7M1152.0 318.3l11.9 6.6M1097.1 443.9l14.8 8.2M1100.3 409.5l14.5 8.0M1133.1 457.8l15.0 8.3M1123.8 506.8l7.5 4.2M1093.8 375.9l14.8 8.2M1136.6 366.4l5.1 2.8M1078.6 490.6l8.2 4.5M1129.8 378.3l5.7 3.2M1038.0 359.4l14.2 7.8M1106.5 443.9l7.5 4.2M1126.1 359.6l5.5 3.1M1131.5 415.4l6.6 3.7M1158.0 317.0l4.7 2.6" stroke="#9a9aa4" stroke-opacity="0.12" stroke-width="1" fill="none"/><path d="M1119.9 289.9l11.8 6.6M1146.4 322.5l12.4 6.9M1186.2 367.6l11.2 6.2M1133.4 382.8l9.8 5.4M1106.6 363.4l12.3 6.8M1165.8 329.8l9.0 5.0M1101.8 298.0l6.0 3.3M1138.7 388.4l7.2 4.0M1241.7 417.6l8.7 4.8M1122.5 305.7l10.9 6.1M1117.7 243.9l5.6 3.1M1109.0 328.6l5.3 3.0M1036.2 310.9l13.8 7.6M1055.6 290.8l12.5 6.9M1098.8 474.7l12.0 6.6M1071.8 405.7l12.8 7.1M1172.4 490.6l7.4 4.1M1201.0 402.4l5.6 3.1" stroke="#9a9aa4" stroke-opacity="0.23" stroke-width="1" fill="none"/><path d="M1173.3 334.3l14.2 7.9M1175.3 312.8l10.9 6.0M1120.7 378.4l15.1 8.4M1106.4 309.5l14.7 8.1M1178.7 378.1l14.3 7.9M1140.5 320.3l14.8 8.2M1141.5 394.4l8.9 4.9M1132.3 298.2l10.6 5.9M1147.3 323.2l10.5 5.8" stroke="#9a9aa4" stroke-opacity="0.35" stroke-width="1" fill="none"/><g transform="rotate(33 1136.8 400)"><g filter="url(#txd)"><g transform="rotate(-33 1136.8 400)"><ellipse cx="1146.8" cy="328" rx="23" ry="7" transform="rotate(30 1146.8 328)" fill="#3a2090" fill-opacity="0.65" filter="url(#f2_0)"/><ellipse cx="1149.8" cy="331" rx="28" ry="9" transform="rotate(30 1149.8 331)" fill="#504a72" fill-opacity="0.2" filter="url(#f3_0)"/><ellipse cx="1180.3" cy="390" rx="17" ry="5" transform="rotate(30 1180.3 390)" fill="#3a2090" fill-opacity="0.55" filter="url(#f2_0)"/><ellipse cx="1085.8" cy="444" rx="13" ry="6" transform="rotate(33 1085.8 444)" fill="#504a72" fill-opacity="0.35" filter="url(#f3_0)"/><ellipse cx="1140.8" cy="473" rx="10" ry="6" transform="rotate(33 1140.8 473)" fill="#504a72" fill-opacity="0.4" filter="url(#f3_0)"/><ellipse cx="1163.8" cy="468" rx="18" ry="11" transform="rotate(33 1163.8 468)" fill="#3a2090" fill-opacity="0.55" filter="url(#f3_0)"/><ellipse cx="1214.8" cy="470" rx="9" ry="3" transform="rotate(33 1214.8 470)" fill="#504a72" fill-opacity="0.45" filter="url(#f2_0)"/><ellipse cx="1238.8" cy="461" rx="7" ry="3" transform="rotate(33 1238.8 461)" fill="#504a72" fill-opacity="0.4" filter="url(#f2_0)"/></g></g></g><g><ellipse cx="1229.8" cy="439.5" rx="21" ry="6.5" transform="rotate(36 1229.8 439.5)" fill="#3c1d90" fill-opacity="0.88" filter="url(#f2_0)"/><ellipse cx="1210.4" cy="445" rx="19" ry="5.5" transform="rotate(36 1210.4 445)" fill="#3c1d90" fill-opacity="0.88" filter="url(#f2_0)"/><ellipse cx="1193.5" cy="454" rx="17" ry="5.5" transform="rotate(36 1193.5 454)" fill="#3c1d90" fill-opacity="0.85" filter="url(#f2_0)"/><ellipse cx="1178.3" cy="462" rx="17" ry="6" transform="rotate(36 1178.3 462)" fill="#3c1d90" fill-opacity="0.8" filter="url(#f2_0)"/><ellipse cx="1162.8" cy="469" rx="12" ry="7" transform="rotate(36 1162.8 469)" fill="#3c1d90" fill-opacity="0.45" filter="url(#f2_5)"/><ellipse cx="1231.8" cy="442" rx="13" ry="2.3" transform="rotate(36 1231.8 442)" fill="#e0202a" fill-opacity="0.95" filter="url(#f0_8)"/><ellipse cx="1229.2" cy="440.3" rx="2.5" ry="1.3" transform="rotate(36 1229.2 440.3)" fill="#ffe45a" fill-opacity="0.95" filter="url(#f0_5)"/><ellipse cx="1237.6" cy="446.1" rx="3" ry="1.6" transform="rotate(36 1237.6 446.1)" fill="#f2641e" fill-opacity="0.95" filter="url(#f0_5)"/><ellipse cx="1213.8" cy="447.5" rx="10" ry="2" transform="rotate(36 1213.8 447.5)" fill="#e0202a" fill-opacity="0.95" filter="url(#f0_8)"/><ellipse cx="1213" cy="446.1" rx="2.5" ry="1.2" transform="rotate(36 1213 446.1)" fill="#ffe45a" fill-opacity="0.95" filter="url(#f0_5)"/><ellipse cx="1195.4" cy="454.5" rx="7" ry="1.8" transform="rotate(36 1195.4 454.5)" fill="#e0202a" fill-opacity="0.95" filter="url(#f0_8)"/><ellipse cx="1198" cy="456.5" rx="2" ry="1.1" transform="rotate(36 1198 456.5)" fill="#ffe45a" fill-opacity="0.9" filter="url(#f0_5)"/><ellipse cx="1179.8" cy="462" rx="7" ry="2.2" transform="rotate(36 1179.8 462)" fill="#e0202a" fill-opacity="0.95" filter="url(#f0_8)"/><ellipse cx="1183.1" cy="465.5" rx="2.5" ry="1.4" transform="rotate(36 1183.1 465.5)" fill="#f2641e" fill-opacity="0.95" filter="url(#f0_5)"/><ellipse cx="1162.4" cy="477.2" rx="2.5" ry="1.2" transform="rotate(36 1162.4 477.2)" fill="#e0202a" fill-opacity="0.9" filter="url(#f0_5)"/><ellipse cx="1165" cy="468.1" rx="2.5" ry="1.2" transform="rotate(36 1165 468.1)" fill="#e0202a" fill-opacity="0.9" filter="url(#f0_5)"/><ellipse cx="1169.8" cy="472" rx="2.5" ry="1.1" transform="rotate(36 1169.8 472)" fill="#e0202a" fill-opacity="0.85" filter="url(#f0_5)"/><ellipse cx="1143.8" cy="326" rx="12" ry="1.5" transform="rotate(30 1143.8 326)" fill="#e0202a" fill-opacity="0.85" filter="url(#f0_8)"/><ellipse cx="1146.8" cy="328" rx="2.5" ry="1.3" transform="rotate(30 1146.8 328)" fill="#ffe45a" fill-opacity="0.95" filter="url(#f0_5)"/></g><g stroke-linecap="square"><line x1="1024.7" y1="460.1" x2="1024.7" y2="266.2" stroke="#262626" stroke-width="1.6"/><line x1="1024.7" y1="460.1" x2="1127.6" y2="527.7" stroke="#262626" stroke-width="1.6"/><line x1="1127.6" y1="527.7" x2="1252.63" y2="480.06" stroke="#262626" stroke-width="1.6"/><line x1="1024.7" y1="437.29" x2="1020.1" y2="434.27" stroke="#262626" stroke-width="1.6"/><line x1="1024.7" y1="380.26" x2="1020.1" y2="377.24" stroke="#262626" stroke-width="1.6"/><line x1="1024.7" y1="323.23" x2="1020.1" y2="320.21" stroke="#262626" stroke-width="1.6"/><line x1="1024.7" y1="266.2" x2="1020.1" y2="263.18" stroke="#262626" stroke-width="1.6"/><line x1="1127.6" y1="527.7" x2="1122.46" y2="529.66" stroke="#262626" stroke-width="1.6"/><line x1="1088.02" y1="501.7" x2="1082.88" y2="503.66" stroke="#262626" stroke-width="1.6"/><line x1="1048.44" y1="475.7" x2="1043.31" y2="477.66" stroke="#262626" stroke-width="1.6"/><line x1="1138.01" y1="523.73" x2="1142.61" y2="526.75" stroke="#262626" stroke-width="1.6"/><line x1="1190.12" y1="503.88" x2="1194.71" y2="506.9" stroke="#262626" stroke-width="1.6"/><line x1="1242.21" y1="484.03" x2="1246.81" y2="487.05" stroke="#262626" stroke-width="1.6"/></g><g fill="#262626"><text x="1014.4" y="261.2" font-size="19" text-anchor="end" dominant-baseline="central">2</text><text x="1014.4" y="318.23" font-size="19" text-anchor="end" dominant-baseline="central">1.5</text><text x="1014.4" y="375.26" font-size="19" text-anchor="end" dominant-baseline="central">1</text><text x="1014.4" y="432.29" font-size="19" text-anchor="end" dominant-baseline="central">0.5</text><text x="1037.44" y="491.7" font-size="19" text-anchor="end" dominant-baseline="central">5.5</text><text x="1077.02" y="517.7" font-size="19" text-anchor="end" dominant-baseline="central">5</text><text x="1116.6" y="543.7" font-size="19" text-anchor="end" dominant-baseline="central">4.5</text><text x="1148.31" y="541.63" font-size="19" text-anchor="start" dominant-baseline="central">-0.5</text><text x="1200.41" y="521.78" font-size="19" text-anchor="start" dominant-baseline="central">0</text><text x="1252.51" y="501.93" font-size="19" text-anchor="start" dominant-baseline="central">0.5</text><text x="1033.2" y="550.6" font-size="19" text-anchor="middle" dominant-baseline="central">Y/m</text><text x="1235.1" y="554.5" font-size="19" text-anchor="middle" dominant-baseline="central">X/m</text><text x="0" y="0" font-size="19" text-anchor="middle" dominant-baseline="central" transform="translate(976.2,363) rotate(-90)">Z/m</text></g><ellipse cx="1146.7" cy="327.5" rx="30.6" ry="19.35" fill="none" stroke="#e84848" stroke-width="0.75"/><ellipse cx="1181.5" cy="387.4" rx="19.45" ry="14.4" fill="none" stroke="#e84848" stroke-width="0.75"/><text x="0" y="0" font-size="23" font-weight="bold" fill="#000" transform="translate(1099.9,313.8) rotate(-29)">Ball 2</text><text x="0" y="0" font-size="23" font-weight="bold" fill="#000" transform="translate(1119.5,432.6) rotate(-29)">Ball 1</text><text x="162.1" y="606" font-size="28" text-anchor="middle" fill="#000" textLength="101.4" lengthAdjust="spacingAndGlyphs">(<tspan font-weight="bold">a</tspan>) OMP</text><text x="475.5" y="606" font-size="28" text-anchor="middle" fill="#000" textLength="128.6" lengthAdjust="spacingAndGlyphs">(<tspan font-weight="bold">b</tspan>) FMSBL</text><text x="797" y="606" font-size="28" text-anchor="middle" fill="#000" textLength="119.8" lengthAdjust="spacingAndGlyphs">(<tspan font-weight="bold">c</tspan>) SBRIM</text><text x="1118.9" y="606" font-size="28" text-anchor="middle" fill="#000" textLength="178.7" lengthAdjust="spacingAndGlyphs">(<tspan font-weight="bold">d</tspan>) FBCS–RVM</text></svg></body></html>
